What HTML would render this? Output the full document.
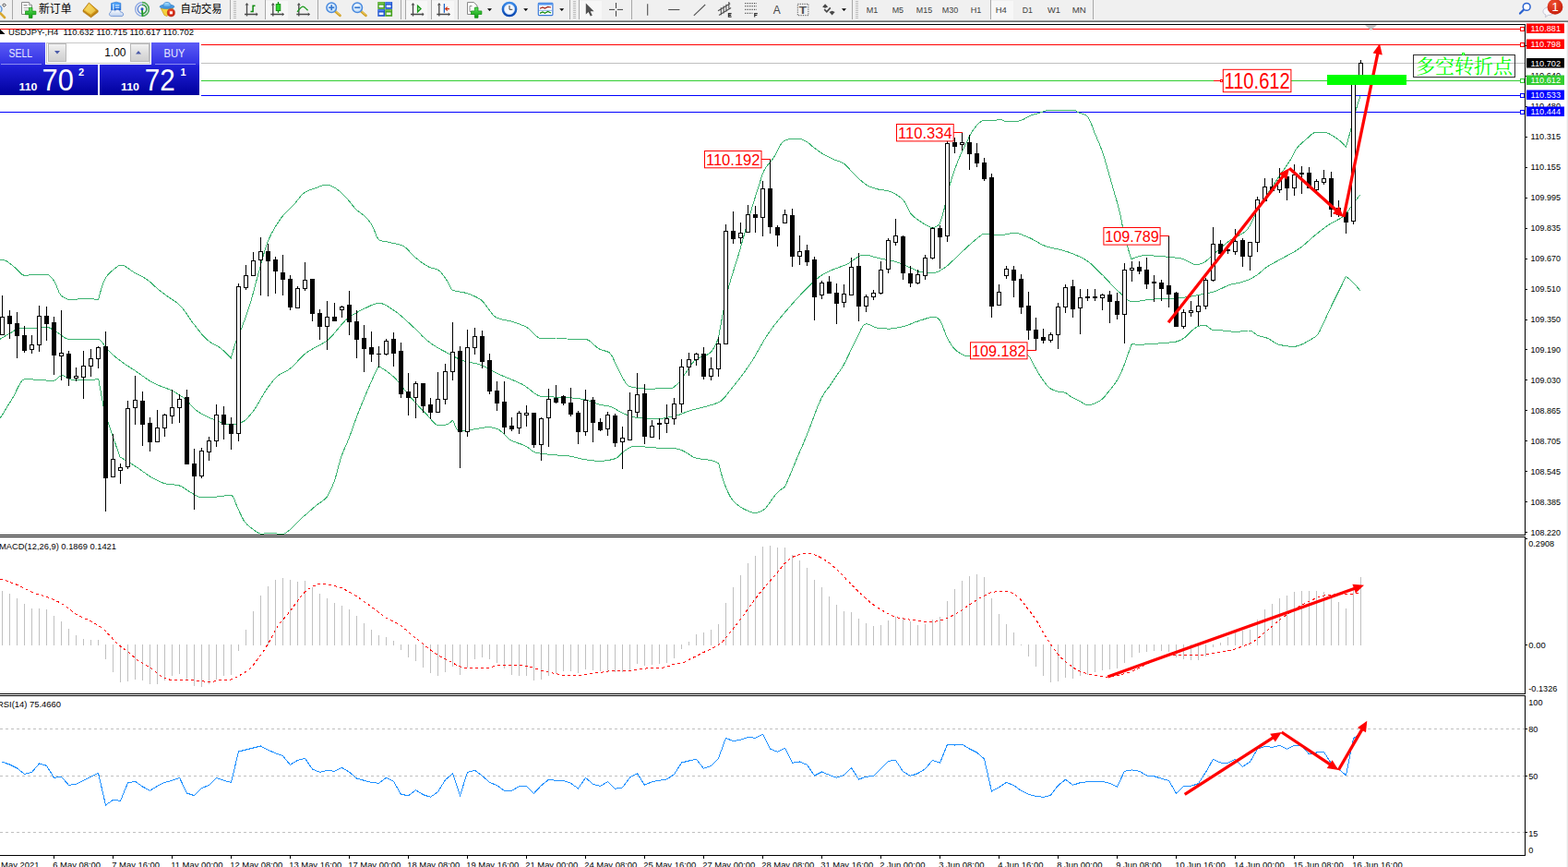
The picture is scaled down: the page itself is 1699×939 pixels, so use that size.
<!DOCTYPE html>
<html><head><meta charset="utf-8"><title>USDJPY H4</title>
<style>html,body{margin:0;padding:0;background:#fff;overflow:hidden}body{width:1699px;height:939px;position:relative;font-family:"Liberation Sans",sans-serif}</style></head>
<body>
<svg width="1699" height="939" viewBox="0 0 1699 939" style="position:absolute;left:0;top:0;font-family:'Liberation Sans',sans-serif" shape-rendering="crispEdges">
<defs>
<clipPath id="cm"><rect x="0" y="27" width="1652" height="552"/></clipPath>
<clipPath id="cmacd"><rect x="0" y="582" width="1652" height="169"/></clipPath>
<clipPath id="crsi"><rect x="0" y="754" width="1652" height="172"/></clipPath>
<linearGradient id="gb" x1="0" y1="0" x2="0" y2="1"><stop offset="0" stop-color="#5a5af5"/><stop offset="0.42" stop-color="#2c2ce0"/><stop offset="1" stop-color="#0000a0"/></linearGradient>
<linearGradient id="gbtn" x1="0" y1="0" x2="0" y2="1"><stop offset="0" stop-color="#f4f4f4"/><stop offset="0.5" stop-color="#dedede"/><stop offset="1" stop-color="#cfcfcf"/></linearGradient>
</defs>
<rect x="0" y="0" width="1699" height="939" fill="#fff" />
<rect x="0" y="31" width="1652" height="1" fill="#ff0000" />
<rect x="0" y="48" width="1652" height="1" fill="#ff0000" />
<rect x="0" y="68" width="1652" height="1" fill="#c0c0c0" />
<rect x="0" y="87" width="1652" height="1" fill="#32cd32" />
<rect x="0" y="103" width="1652" height="1" fill="#0000ff" />
<rect x="0" y="121" width="1652" height="1" fill="#0000ff" />
<g clip-path="url(#cm)">
<polyline points="0.0,281.4 2.0,281.5 4.0,281.8 6.0,282.3 8.0,283.3 10.0,284.8 12.0,286.4 14.0,288.1 16.0,289.6 18.0,291.5 20.0,293.6 22.0,295.7 24.0,297.3 26.0,298.2 28.0,298.3 30.0,298.1 32.0,297.9 34.0,297.6 36.0,297.4 38.0,297.2 40.0,297.2 42.0,297.2 44.0,297.2 46.0,297.2 48.0,297.2 50.0,297.2 52.0,297.5 54.0,298.9 56.0,301.0 58.0,303.3 60.0,306.7 62.0,311.8 64.0,316.7 66.0,319.8 68.0,321.4 70.0,322.7 72.0,323.7 74.0,324.3 76.0,324.4 78.0,324.3 80.0,324.2 82.0,324.1 84.0,324.0 86.0,323.8 88.0,323.7 90.0,323.7 92.0,323.6 94.0,323.6 96.0,323.7 98.0,323.8 100.0,323.9 102.0,324.0 104.0,324.2 106.0,324.3 106.6,324.4 106.6,324.4 108.6,316.9 110.6,310.2 112.6,304.7 114.6,300.9 116.6,298.1 118.6,295.8 120.6,293.9 122.6,292.3 124.6,290.6 126.6,289.1 128.6,287.8 130.6,287.2 132.6,287.3 134.6,287.9 136.6,289.0 138.6,290.3 140.6,291.7 142.6,293.2 144.6,294.6 146.6,295.7 148.6,296.8 150.6,297.8 152.6,298.9 154.6,299.9 156.6,301.1 158.6,302.3 160.6,303.7 162.6,305.3 164.6,307.1 166.6,309.0 168.6,310.9 170.6,312.7 172.6,314.3 174.6,315.8 176.6,317.3 178.6,318.8 180.6,320.3 182.6,321.7 184.6,323.0 186.6,324.3 188.6,325.7 190.6,327.1 192.6,328.6 194.6,330.3 196.6,332.4 198.6,334.9 200.6,337.6 202.6,340.5 204.6,343.5 206.6,346.4 208.6,349.2 210.6,351.8 212.6,354.3 214.6,356.9 216.6,359.4 218.6,361.9 220.6,364.2 222.6,366.3 224.6,368.1 226.6,369.7 228.6,371.0 230.6,372.2 232.6,373.3 234.6,374.3 236.6,375.5 238.6,376.8 240.6,378.4 242.6,380.1 244.6,382.0 246.6,384.0 248.6,386.1 250.3,388.0 250.3,388.0 252.3,380.8 254.3,374.3 256.3,368.6 258.3,363.8 260.3,359.1 262.3,353.9 264.3,348.6 266.3,343.2 268.3,337.5 270.3,331.4 272.3,324.6 274.3,317.4 276.3,309.9 278.3,302.4 280.3,295.3 282.3,288.0 284.3,280.6 286.3,273.5 288.3,267.0 290.3,261.5 292.3,256.9 294.3,252.8 296.3,249.1 298.3,245.7 300.3,242.5 302.3,239.4 304.3,236.6 306.3,234.0 308.3,231.7 310.3,229.6 312.3,227.7 314.3,225.8 316.3,223.9 318.3,221.8 320.3,219.5 322.3,216.9 324.3,214.3 326.3,211.9 328.3,209.8 330.3,208.3 332.3,207.3 334.3,206.4 336.3,205.6 338.3,204.9 340.3,204.2 342.3,203.6 344.3,202.8 346.3,202.0 348.3,201.3 350.3,200.6 352.3,200.2 354.3,200.0 356.3,200.3 358.3,201.1 360.3,202.1 362.3,203.1 364.3,204.3 366.3,205.8 368.3,207.5 370.3,209.3 372.3,211.2 374.3,213.2 376.3,215.3 378.3,217.7 380.3,220.3 382.3,222.8 384.3,225.1 386.3,227.2 388.3,228.9 390.3,230.4 392.3,231.8 394.3,233.3 396.3,235.2 398.3,237.3 400.3,239.8 402.3,242.7 404.3,246.2 406.3,251.3 408.3,256.4 410.3,259.8 412.3,260.6 414.3,261.1 416.3,261.5 418.3,261.8 420.3,262.1 422.3,262.5 424.3,263.0 426.3,263.4 428.3,263.8 430.3,264.3 432.3,264.8 434.3,265.4 436.3,266.1 438.3,267.3 440.3,268.9 442.3,270.9 444.3,273.1 446.3,275.3 448.3,277.4 450.3,279.2 452.3,280.7 454.3,282.3 456.3,283.8 458.3,285.2 460.3,286.6 462.3,287.8 464.3,288.9 466.3,289.7 468.3,290.4 470.3,290.9 472.3,291.4 474.3,292.1 476.3,293.5 478.3,295.6 480.3,298.1 482.3,300.8 484.3,303.8 486.3,307.9 488.3,311.9 490.3,314.2 492.3,314.9 494.3,315.4 496.3,315.7 498.3,316.0 500.3,316.3 502.3,316.7 504.3,317.2 506.3,317.8 508.3,318.4 510.3,319.2 512.3,320.0 514.3,320.9 516.3,321.9 518.3,323.0 520.3,324.1 522.3,325.7 524.3,327.9 526.3,330.4 528.3,333.2 530.3,336.0 532.3,338.7 534.3,341.1 536.3,342.9 538.3,344.2 540.3,344.9 542.3,345.5 544.3,346.0 546.3,346.4 548.3,346.8 550.3,347.2 552.3,347.6 554.3,348.2 556.3,348.8 558.3,349.4 560.3,350.1 562.3,350.8 564.3,351.6 566.3,352.4 568.3,353.3 570.3,354.3 572.3,355.6 574.3,357.3 576.3,359.3 578.3,361.3 580.3,363.3 582.3,364.9 584.3,366.1 586.3,366.7 588.3,366.6 590.3,366.5 592.3,366.4 594.3,366.3 596.3,366.1 598.3,366.0 600.3,366.0 602.3,366.0 604.3,366.1 606.3,366.3 608.3,366.4 610.3,366.6 612.3,366.8 614.3,367.0 616.3,367.1 618.3,367.3 620.3,367.3 622.3,367.4 624.3,367.4 626.3,367.5 628.3,367.5 630.3,367.5 632.3,367.6 634.3,367.6 636.3,367.9 638.3,368.8 640.3,370.3 642.3,372.1 644.3,374.0 646.3,375.8 648.3,377.4 650.3,378.5 652.3,379.2 654.3,379.7 656.3,380.2 658.3,380.9 660.3,381.9 662.3,384.2 664.3,387.9 666.3,392.3 668.3,396.8 670.3,400.5 672.3,404.3 674.3,408.3 676.3,412.1 678.3,415.3 680.3,417.6 682.3,418.5 684.3,419.0 686.3,419.5 688.3,419.9 690.3,420.2 692.3,420.5 694.3,420.7 696.3,420.9 698.3,421.0 700.3,421.0 702.3,421.0 704.3,421.0 706.3,421.0 708.3,421.0 710.3,421.0 712.3,420.9 714.3,420.9 716.3,420.9 718.3,420.9 720.3,420.8 722.3,420.8 724.3,420.7 726.3,420.7 728.3,420.3 730.3,419.1 732.3,417.5 734.3,415.8 736.3,413.5 738.3,410.7 740.3,407.7 742.3,404.8 744.3,402.0 746.3,399.0 748.3,396.0 750.3,393.2 752.3,390.9 754.3,389.3 756.3,388.1 758.3,387.2 760.3,386.5 762.3,385.8 764.3,385.0 766.3,384.1 768.3,382.9 770.3,381.4 772.3,378.9 774.3,375.4 776.3,371.2 778.3,366.7 778.3,366.7 778.3,366.7 780.3,355.6 782.3,345.1 784.3,335.0 786.3,325.2 788.3,316.1 790.3,308.2 792.3,301.2 794.3,294.8 796.3,288.5 798.3,282.2 800.3,275.5 802.3,268.6 804.3,261.5 806.3,254.4 808.3,247.3 810.3,240.3 812.3,233.4 814.3,226.7 816.3,220.1 818.3,213.6 820.3,207.3 822.3,201.0 824.3,194.6 826.3,188.3 828.3,183.9 830.3,180.7 832.3,178.2 834.3,175.9 836.3,173.5 838.3,170.9 840.3,167.4 842.3,163.4 844.3,159.5 846.3,156.0 848.3,153.6 850.3,152.4 852.3,151.4 854.3,150.8 856.3,150.6 858.3,150.6 860.3,150.6 862.3,150.6 864.3,150.6 866.3,150.6 868.3,150.9 870.3,151.6 872.3,152.6 874.3,153.7 876.3,155.1 878.3,156.8 880.3,158.6 882.3,160.2 884.3,161.7 886.3,163.2 888.3,164.6 890.3,165.9 892.3,167.1 894.3,168.2 896.3,169.2 898.3,170.2 900.3,171.2 902.3,172.1 904.3,173.0 906.3,173.8 908.3,174.5 910.3,175.2 912.3,176.1 914.3,177.2 916.3,178.7 918.3,180.7 920.3,183.0 922.3,185.2 924.3,187.2 926.3,189.3 928.3,191.4 930.3,193.4 932.3,195.1 934.3,196.8 936.3,198.5 938.3,199.9 940.3,201.1 942.3,202.0 944.3,202.8 946.3,203.6 948.3,204.2 950.3,204.7 952.3,205.2 954.3,205.6 956.3,205.8 958.3,206.0 960.3,206.3 962.3,206.7 964.3,207.3 966.3,208.1 968.3,209.1 970.3,210.2 972.3,211.4 974.3,212.8 976.3,214.4 978.3,216.3 980.3,218.8 982.3,222.7 984.3,227.0 986.3,230.6 988.3,232.8 990.3,234.8 992.3,236.4 994.3,237.9 996.3,239.2 998.3,240.5 1000.3,241.8 1002.3,243.1 1004.3,244.2 1006.3,245.3 1008.3,246.0 1010.3,246.4 1012.3,246.4 1014.3,245.6 1016.3,244.2 1018.3,242.5 1018.4,242.4 1018.4,242.4 1020.4,236.0 1022.4,229.0 1024.4,220.8 1026.4,211.7 1028.4,203.1 1030.4,196.2 1032.4,189.8 1034.4,183.9 1036.4,178.5 1038.4,173.3 1040.4,168.5 1042.4,164.1 1044.4,160.0 1046.4,156.1 1048.4,151.9 1050.4,147.8 1052.4,144.3 1054.4,141.0 1056.4,138.1 1058.4,135.7 1060.4,133.8 1062.4,132.0 1064.4,130.7 1066.4,130.4 1068.4,130.4 1070.4,130.4 1072.4,130.4 1074.4,130.4 1076.4,130.4 1078.4,130.3 1080.4,129.8 1082.4,129.3 1084.4,129.3 1086.4,130.3 1088.4,131.4 1090.4,131.5 1092.4,131.5 1094.4,131.5 1096.4,131.5 1098.4,131.5 1100.4,131.5 1102.4,131.4 1104.4,130.9 1106.4,130.3 1108.4,129.5 1110.4,128.5 1112.4,127.4 1114.4,126.3 1116.4,125.2 1118.4,124.5 1120.4,123.9 1122.4,123.4 1124.4,122.9 1126.4,122.3 1128.4,121.7 1130.4,120.9 1132.4,120.1 1134.4,119.5 1136.4,119.2 1138.4,119.2 1140.4,119.2 1142.4,119.2 1144.4,119.2 1146.4,119.2 1148.4,119.2 1150.4,119.2 1152.4,119.2 1154.4,119.2 1156.4,119.2 1158.4,119.2 1160.4,119.2 1162.4,119.2 1164.4,119.3 1166.4,120.4 1168.4,121.8 1170.4,122.7 1172.4,123.2 1174.4,123.7 1176.4,124.4 1178.4,126.3 1180.4,129.4 1182.4,133.9 1184.4,139.4 1186.4,144.6 1188.4,149.3 1190.4,153.9 1192.4,158.8 1194.4,164.1 1196.4,170.3 1198.4,177.1 1200.4,184.1 1202.4,191.0 1204.4,198.1 1206.4,205.2 1208.4,212.2 1210.4,218.8 1212.4,226.0 1214.4,235.2 1216.4,245.5 1218.4,254.0 1220.4,262.1 1222.4,269.5 1224.4,276.1 1226.0,280.7 1226.0,280.7 1228.0,279.8 1230.0,279.0 1232.0,278.3 1234.0,277.6 1236.0,277.1 1238.0,276.8 1240.0,276.7 1242.0,276.7 1244.0,276.7 1246.0,276.8 1248.0,276.9 1250.0,277.0 1252.0,277.1 1254.0,277.3 1256.0,277.4 1258.0,277.6 1260.0,277.7 1262.0,277.9 1264.0,278.1 1266.0,278.3 1268.0,278.5 1270.0,278.6 1272.0,278.8 1274.0,279.1 1276.0,279.3 1278.0,279.7 1280.0,280.0 1282.0,280.6 1284.0,281.4 1286.0,282.4 1288.0,283.5 1290.0,284.6 1292.0,285.6 1294.0,286.3 1296.0,286.6 1298.0,286.6 1300.0,286.1 1302.0,285.5 1304.0,284.7 1306.0,283.4 1308.0,281.7 1310.0,279.8 1312.0,277.8 1314.0,276.1 1316.0,274.4 1318.0,272.7 1320.0,270.9 1322.0,269.1 1324.0,267.4 1326.0,265.7 1328.0,264.0 1330.0,262.5 1332.0,260.9 1334.0,259.5 1336.0,258.3 1338.0,257.3 1340.0,256.3 1342.0,255.3 1344.0,254.2 1346.0,253.0 1348.0,251.6 1350.0,250.0 1352.0,247.8 1354.0,244.7 1356.0,241.2 1358.0,237.2 1360.0,233.0 1362.0,228.8 1364.0,224.8 1366.0,221.1 1368.0,217.9 1370.0,214.9 1372.0,212.0 1374.0,209.0 1376.0,206.0 1378.0,203.0 1380.0,200.0 1382.0,197.0 1384.0,194.0 1386.0,191.0 1388.0,188.0 1390.0,185.2 1392.0,182.4 1394.0,179.5 1396.0,176.6 1398.0,173.4 1400.0,170.0 1402.0,165.7 1404.0,162.0 1406.0,159.4 1408.0,157.3 1410.0,155.4 1412.0,153.7 1414.0,152.0 1416.0,150.3 1418.0,148.4 1420.0,146.5 1422.0,144.9 1424.0,143.7 1426.0,143.0 1428.0,143.0 1430.0,143.0 1432.0,143.0 1434.0,143.0 1436.0,143.3 1438.0,143.9 1440.0,144.8 1442.0,145.9 1444.0,147.1 1446.0,148.3 1448.0,149.5 1450.0,151.0 1452.0,152.7 1454.0,154.6 1456.0,156.6 1458.0,158.8 1458.4,159.2 1458.4,159.2 1460.4,152.3 1462.4,145.1 1464.4,137.7 1466.4,129.8 1468.4,122.2 1470.4,115.2 1472.4,108.8 1473.9,104.1" fill="none" stroke="#3cb371" stroke-width="1" />
<polyline points="0.0,367.3 2.0,366.1 4.0,364.9 6.0,363.7 8.0,362.6 10.0,361.5 12.0,360.3 14.0,358.9 16.0,357.6 18.0,356.5 20.0,355.6 22.0,355.1 24.0,355.1 26.0,355.1 28.0,355.2 30.0,355.3 32.0,355.4 34.0,355.5 36.0,355.5 38.0,355.4 40.0,355.2 42.0,355.0 44.0,354.8 46.0,354.6 48.0,354.4 50.0,354.3 52.0,354.5 54.0,355.2 56.0,356.3 58.0,357.6 60.0,358.9 62.0,360.0 64.0,361.4 66.0,362.9 68.0,364.5 70.0,365.8 72.0,366.8 74.0,367.3 76.0,367.3 78.0,367.3 80.0,367.3 82.0,367.3 84.0,367.3 86.0,367.3 88.0,367.3 90.0,367.3 92.0,367.3 94.0,367.3 96.0,367.3 98.0,367.3 100.0,367.3 102.0,367.3 104.0,367.3 106.0,367.3 108.0,367.8 110.0,369.7 112.0,372.5 114.0,375.5 116.0,378.2 118.0,380.2 120.0,382.1 122.0,383.9 124.0,385.6 126.0,387.3 128.0,388.9 130.0,390.4 132.0,391.9 134.0,393.4 136.0,394.8 138.0,396.1 140.0,397.4 142.0,398.6 144.0,399.9 146.0,401.2 148.0,402.6 150.0,404.0 152.0,405.4 154.0,406.8 156.0,408.2 158.0,409.6 160.0,411.0 162.0,412.3 164.0,413.5 166.0,414.7 168.0,415.7 170.0,416.6 172.0,417.4 174.0,418.2 176.0,418.9 178.0,419.7 180.0,420.4 182.0,421.2 184.0,422.1 186.0,423.0 188.0,424.0 190.0,425.1 192.0,426.3 194.0,427.5 196.0,428.8 198.0,430.2 200.0,431.7 202.0,433.4 204.0,435.5 206.0,437.7 208.0,440.0 210.0,442.1 212.0,444.0 214.0,445.4 216.0,446.7 218.0,447.9 220.0,449.1 222.0,450.1 224.0,451.1 226.0,452.0 228.0,452.9 230.0,453.7 232.0,454.5 234.0,455.3 236.0,456.0 238.0,456.9 240.0,457.7 242.0,458.4 244.0,459.0 246.0,459.5 248.0,459.9 250.0,460.0 252.0,459.9 254.0,459.6 256.0,459.2 258.0,458.6 260.0,458.0 262.0,457.2 264.0,456.4 266.0,455.0 268.0,453.0 270.0,450.7 272.0,448.3 274.0,445.8 276.0,443.0 278.0,439.9 280.0,436.5 282.0,433.0 284.0,429.5 286.0,426.0 288.0,422.8 290.0,420.0 292.0,417.4 294.0,414.8 296.0,412.3 298.0,410.1 300.0,408.1 302.0,406.4 304.0,405.1 306.0,404.0 308.0,403.0 310.0,402.0 312.0,400.9 314.0,399.5 316.0,397.9 318.0,396.0 320.0,393.9 322.0,391.8 324.0,389.6 326.0,387.5 328.0,385.5 330.0,383.7 332.0,382.1 334.0,380.7 336.0,379.4 338.0,378.3 340.0,377.2 342.0,376.1 344.0,375.1 346.0,374.0 348.0,372.9 350.0,371.7 352.0,370.5 354.0,369.1 356.0,367.5 358.0,365.7 360.0,363.6 362.0,361.3 364.0,358.9 366.0,356.4 368.0,354.0 370.0,351.6 372.0,349.4 374.0,347.3 376.0,345.5 378.0,344.0 380.0,342.6 382.0,341.2 384.0,340.0 386.0,338.8 388.0,337.7 390.0,336.6 392.0,335.6 394.0,334.7 396.0,333.7 398.0,332.7 400.0,331.7 402.0,330.7 404.0,329.9 406.0,329.2 408.0,328.6 410.0,328.4 412.0,328.4 414.0,328.8 416.0,329.5 418.0,330.5 420.0,331.7 422.0,332.9 424.0,334.3 426.0,335.6 428.0,336.9 430.0,338.3 432.0,339.9 434.0,341.6 436.0,343.3 438.0,345.2 440.0,347.0 442.0,348.8 444.0,350.6 446.0,352.4 448.0,354.3 450.0,356.3 452.0,358.3 454.0,360.3 456.0,362.3 458.0,364.3 460.0,366.1 462.0,367.9 464.0,369.6 466.0,371.2 468.0,372.6 470.0,373.9 472.0,375.2 474.0,376.4 476.0,377.6 478.0,378.7 480.0,379.8 482.0,380.8 484.0,381.9 486.0,383.0 488.0,384.1 490.0,385.2 492.0,386.3 494.0,387.3 496.0,388.3 498.0,389.2 500.0,390.0 502.0,390.6 504.0,391.2 506.0,391.7 508.0,392.1 510.0,392.5 512.0,392.9 514.0,393.4 516.0,393.8 518.0,394.4 520.0,395.0 522.0,395.7 524.0,396.6 526.0,397.6 528.0,398.6 530.0,399.7 532.0,400.8 534.0,401.9 536.0,403.0 538.0,404.0 540.0,405.0 542.0,405.9 544.0,406.8 546.0,407.6 548.0,408.5 550.0,409.3 552.0,410.1 554.0,410.9 556.0,411.8 558.0,412.6 560.0,413.5 562.0,414.4 564.0,415.3 566.0,416.3 568.0,417.4 570.0,418.8 572.0,420.3 574.0,421.9 576.0,423.5 578.0,425.1 580.0,426.6 582.0,427.8 584.0,428.7 586.0,429.2 588.0,429.4 590.0,429.6 592.0,429.7 594.0,429.8 596.0,429.8 598.0,429.9 600.0,430.0 602.0,430.1 604.0,430.2 606.0,430.3 608.0,430.4 610.0,430.4 612.0,430.5 614.0,430.6 616.0,430.7 618.0,430.9 620.0,431.0 622.0,431.2 624.0,431.4 626.0,431.6 628.0,431.8 630.0,432.1 632.0,432.4 634.0,432.8 636.0,433.3 638.0,434.0 640.0,434.7 642.0,435.6 644.0,436.4 646.0,437.1 648.0,437.8 650.0,438.3 652.0,438.7 654.0,439.0 656.0,439.3 658.0,439.6 660.0,440.0 662.0,440.6 664.0,441.5 666.0,442.5 668.0,443.7 670.0,444.9 672.0,446.1 674.0,447.1 676.0,448.1 678.0,448.8 680.0,449.6 682.0,450.4 684.0,451.0 686.0,451.6 688.0,452.1 690.0,452.3 692.0,452.5 694.0,452.6 696.0,452.8 698.0,452.9 700.0,453.0 702.0,453.1 704.0,453.2 706.0,453.2 708.0,453.3 710.0,453.3 712.0,453.3 714.0,453.3 716.0,453.2 718.0,453.1 720.0,452.8 722.0,452.5 724.0,452.1 726.0,451.7 728.0,451.3 730.0,450.8 732.0,450.3 734.0,449.8 736.0,449.2 738.0,448.5 740.0,447.6 742.0,446.8 744.0,445.9 746.0,445.2 748.0,444.6 750.0,444.0 752.0,443.5 754.0,443.0 756.0,442.6 758.0,442.1 760.0,441.6 762.0,441.0 764.0,440.5 766.0,439.9 768.0,439.4 770.0,438.8 772.0,438.2 774.0,437.6 776.0,436.8 778.0,436.0 780.0,435.0 782.0,433.6 784.0,431.7 786.0,429.5 788.0,426.9 790.0,424.3 792.0,421.7 794.0,419.2 796.0,416.7 798.0,414.2 800.0,411.7 802.0,409.1 804.0,406.4 806.0,403.8 808.0,401.0 810.0,398.2 812.0,395.3 814.0,392.3 816.0,389.2 818.0,385.9 820.0,382.4 822.0,378.9 824.0,375.4 826.0,371.8 828.0,368.4 830.0,365.1 832.0,362.0 834.0,359.1 836.0,356.3 838.0,353.6 840.0,351.0 842.0,348.5 844.0,346.0 846.0,343.6 848.0,341.2 850.0,338.9 852.0,336.5 854.0,334.2 856.0,331.9 858.0,329.6 860.0,327.4 862.0,325.2 864.0,323.0 866.0,320.8 868.0,318.7 870.0,316.7 872.0,314.7 874.0,312.7 876.0,310.7 878.0,308.7 880.0,306.7 882.0,304.8 884.0,303.0 886.0,301.3 888.0,299.7 890.0,298.3 892.0,297.1 894.0,296.0 896.0,295.0 898.0,294.0 900.0,293.1 902.0,292.2 904.0,291.4 906.0,290.6 908.0,289.9 910.0,289.2 912.0,288.5 914.0,287.7 916.0,287.0 918.0,286.0 920.0,284.9 922.0,283.5 924.0,282.1 926.0,280.7 928.0,279.3 930.0,278.1 932.0,277.1 934.0,276.4 936.0,276.0 938.0,276.1 940.0,276.3 942.0,276.7 944.0,277.2 946.0,277.9 948.0,278.5 950.0,279.1 952.0,279.7 954.0,280.1 956.0,280.5 958.0,280.9 960.0,281.3 962.0,281.6 964.0,282.0 966.0,282.4 968.0,282.8 970.0,283.3 972.0,283.9 974.0,284.6 976.0,285.4 978.0,286.3 980.0,287.2 982.0,288.0 984.0,288.9 986.0,289.7 988.0,290.6 990.0,291.5 992.0,292.5 994.0,293.4 996.0,294.2 998.0,294.8 1000.0,295.0 1002.0,295.0 1004.0,295.0 1006.0,295.0 1008.0,295.0 1010.0,295.0 1012.0,295.0 1014.0,295.0 1016.0,294.5 1018.0,293.5 1020.0,292.2 1022.0,290.9 1024.0,289.6 1026.0,288.1 1028.0,286.5 1030.0,284.7 1032.0,282.7 1034.0,280.8 1036.0,278.8 1038.0,276.9 1040.0,275.0 1042.0,273.2 1044.0,271.3 1046.0,269.4 1048.0,267.5 1050.0,265.7 1052.0,263.9 1054.0,262.1 1056.0,260.5 1058.0,258.9 1060.0,257.2 1062.0,255.5 1064.0,254.1 1066.0,253.4 1068.0,253.4 1070.0,253.5 1072.0,253.8 1074.0,254.1 1076.0,254.5 1078.0,254.7 1080.0,254.9 1082.0,255.0 1084.0,254.9 1086.0,254.6 1088.0,254.3 1090.0,253.8 1092.0,253.4 1094.0,253.0 1096.0,252.7 1098.0,252.4 1100.0,252.3 1102.0,252.5 1104.0,252.9 1106.0,253.6 1108.0,254.4 1110.0,255.3 1112.0,256.1 1114.0,256.9 1116.0,257.8 1118.0,258.8 1120.0,259.9 1122.0,261.0 1124.0,262.2 1126.0,263.3 1128.0,264.4 1130.0,265.3 1132.0,266.2 1134.0,266.9 1136.0,267.5 1138.0,268.0 1140.0,268.5 1142.0,268.9 1144.0,269.4 1146.0,269.8 1148.0,270.2 1150.0,270.7 1152.0,271.3 1154.0,271.9 1156.0,272.5 1158.0,273.2 1160.0,273.9 1162.0,274.7 1164.0,275.4 1166.0,276.3 1168.0,277.2 1170.0,278.1 1172.0,279.1 1174.0,280.2 1176.0,281.3 1178.0,282.5 1180.0,284.0 1182.0,285.6 1184.0,287.5 1186.0,289.4 1188.0,291.4 1190.0,293.4 1192.0,295.4 1194.0,297.3 1196.0,299.3 1198.0,301.4 1200.0,303.5 1202.0,305.7 1204.0,307.8 1206.0,310.0 1208.0,312.0 1210.0,314.0 1212.0,315.8 1214.0,317.5 1216.0,319.4 1218.0,321.4 1220.0,323.3 1222.0,324.8 1224.0,326.0 1226.0,326.6 1228.0,326.6 1230.0,326.5 1232.0,326.4 1234.0,326.1 1236.0,325.9 1238.0,325.6 1240.0,325.2 1242.0,324.9 1244.0,324.6 1246.0,324.4 1248.0,324.2 1250.0,324.0 1252.0,323.9 1254.0,323.8 1256.0,323.7 1258.0,323.7 1260.0,323.6 1262.0,323.5 1264.0,323.5 1266.0,323.4 1268.0,323.3 1270.0,323.1 1272.0,323.0 1274.0,322.9 1276.0,322.7 1278.0,322.5 1280.0,322.3 1282.0,322.2 1284.0,322.0 1286.0,321.7 1288.0,321.5 1290.0,321.2 1292.0,320.9 1294.0,320.5 1296.0,320.1 1298.0,319.6 1300.0,319.2 1302.0,318.8 1304.0,318.4 1306.0,318.1 1308.0,317.7 1310.0,317.3 1312.0,316.9 1314.0,316.4 1316.0,315.7 1318.0,315.0 1320.0,314.1 1322.0,313.2 1324.0,312.2 1326.0,311.3 1328.0,310.3 1330.0,309.5 1332.0,308.7 1334.0,308.1 1336.0,307.6 1338.0,307.2 1340.0,306.8 1342.0,306.4 1344.0,306.0 1346.0,305.5 1348.0,304.8 1350.0,304.1 1352.0,303.3 1354.0,302.4 1356.0,301.4 1358.0,300.3 1360.0,299.2 1362.0,297.9 1364.0,296.4 1366.0,294.7 1368.0,292.9 1370.0,291.2 1372.0,289.7 1374.0,288.4 1376.0,287.1 1378.0,286.0 1380.0,284.8 1382.0,283.8 1384.0,282.7 1386.0,281.6 1388.0,280.5 1390.0,279.4 1392.0,278.3 1394.0,277.2 1396.0,276.2 1398.0,275.1 1400.0,274.0 1402.0,272.9 1404.0,271.7 1406.0,270.4 1408.0,269.1 1410.0,267.6 1412.0,266.0 1414.0,264.3 1416.0,262.6 1418.0,260.8 1420.0,259.0 1422.0,257.2 1424.0,255.5 1426.0,253.9 1428.0,252.3 1430.0,250.7 1432.0,249.2 1434.0,247.6 1436.0,246.1 1438.0,244.7 1440.0,243.3 1442.0,242.1 1444.0,241.0 1446.0,239.9 1448.0,238.9 1450.0,237.8 1452.0,236.7 1454.0,235.4 1456.0,233.9 1458.0,232.0 1460.0,229.6 1462.0,226.7 1464.0,223.8 1466.0,220.9 1468.0,218.3 1470.0,215.7 1472.0,213.2 1474.0,210.7" fill="none" stroke="#3cb371" stroke-width="1" />
<polyline points="0.0,453.3 2.0,450.0 4.0,446.8 6.0,443.5 8.0,440.3 10.0,437.0 12.0,433.8 14.0,430.6 16.0,426.8 18.0,422.6 20.0,418.5 22.0,414.9 24.0,412.2 26.0,410.8 28.0,410.7 30.0,410.7 32.0,410.8 34.0,410.9 36.0,411.0 38.0,411.2 40.0,411.3 42.0,411.5 44.0,411.6 46.0,411.8 48.0,411.9 50.0,412.0 52.0,412.2 54.0,412.2 56.0,412.3 58.0,412.3 60.0,411.7 62.0,410.0 64.0,408.0 66.0,406.8 68.0,406.8 70.0,407.4 72.0,408.4 74.0,409.5 76.0,410.6 78.0,411.4 80.0,411.7 82.0,411.7 84.0,411.7 86.0,411.7 88.0,411.6 90.0,411.6 92.0,411.6 94.0,411.5 96.0,411.5 98.0,411.4 100.0,411.2 102.0,411.1 104.0,410.9 106.0,410.7 106.7,410.7 106.7,410.7 113.3,446.7 113.3,446.7 130.0,495.0 130.0,495.0 132.0,496.1 134.0,497.3 136.0,498.5 138.0,499.7 140.0,500.9 142.0,502.1 144.0,503.3 146.0,504.6 148.0,505.9 150.0,507.2 152.0,508.6 154.0,510.0 156.0,511.5 158.0,512.9 160.0,514.3 162.0,515.6 164.0,516.9 166.0,518.0 168.0,519.0 170.0,520.1 172.0,521.1 174.0,522.0 176.0,522.8 178.0,523.5 180.0,524.0 182.0,524.3 184.0,524.6 186.0,524.8 188.0,524.9 190.0,525.1 192.0,525.4 194.0,525.8 196.0,526.6 198.0,527.7 200.0,529.0 202.0,530.3 204.0,531.7 206.0,533.0 208.0,534.1 210.0,535.4 212.0,536.7 214.0,537.7 216.0,538.3 218.0,538.3 220.0,538.3 222.0,538.3 224.0,538.3 226.0,538.3 228.0,538.3 230.0,538.3 232.0,538.2 234.0,538.1 236.0,537.9 238.0,537.7 240.0,537.5 242.0,537.2 244.0,536.9 246.0,536.6 248.0,536.4 250.0,536.3 252.0,537.2 254.0,541.1 256.0,546.4 258.0,551.3 260.0,555.4 262.0,559.7 264.0,563.4 266.0,566.2 268.0,568.3 270.0,570.1 272.0,571.6 274.0,573.1 276.0,574.5 278.0,576.1 280.0,577.4 282.0,578.0 284.0,578.0 286.0,578.0 288.0,577.9 290.0,577.8 292.0,577.7 294.0,577.7 296.0,577.7 298.0,577.8 300.0,578.0 302.0,578.1 304.0,578.2 306.0,578.3 308.0,578.0 310.0,576.9 312.0,575.4 314.0,573.9 316.0,572.2 318.0,570.3 320.0,568.2 322.0,566.0 324.0,563.9 326.0,561.9 328.0,560.1 330.0,558.4 332.0,556.8 334.0,555.1 336.0,553.3 338.0,551.5 340.0,549.7 342.0,547.9 344.0,546.3 346.0,544.9 348.0,543.6 350.0,542.2 352.0,540.5 354.0,538.4 356.0,535.2 358.0,531.3 360.0,526.9 362.0,521.8 364.0,515.6 366.0,507.8 368.0,500.6 370.0,494.2 372.0,488.7 374.0,484.4 376.0,479.9 378.0,474.9 380.0,469.5 382.0,463.9 384.0,458.3 386.0,452.8 388.0,447.5 390.0,442.5 392.0,437.6 394.0,432.7 396.0,427.9 398.0,423.2 400.0,418.5 402.0,414.0 404.0,409.5 406.0,405.1 408.0,400.8 410.0,396.7 410.0,396.7 412.0,397.6 414.0,398.8 416.0,400.0 418.0,401.4 420.0,402.8 422.0,404.4 424.0,406.0 426.0,407.7 428.0,409.6 430.0,411.7 432.0,414.0 434.0,416.5 436.0,419.1 438.0,421.7 440.0,424.3 442.0,426.8 444.0,429.1 446.0,431.4 448.0,433.6 450.0,435.9 452.0,438.1 454.0,440.3 456.0,442.4 458.0,444.6 460.0,446.6 462.0,448.7 464.0,450.7 466.0,453.0 468.0,455.4 470.0,457.7 472.0,459.5 474.0,460.5 476.0,460.7 478.0,460.6 480.0,460.4 482.0,460.2 484.0,459.9 486.0,458.9 488.0,457.5 490.0,455.6 490.7,455.0 490.7,455.0 492.7,460.2 494.7,464.7 496.7,466.7 498.7,466.6 500.7,466.5 502.7,466.3 504.7,466.1 506.7,465.9 508.7,465.6 510.7,465.3 512.7,465.1 514.7,464.8 516.7,464.5 518.7,464.1 520.7,463.8 522.7,463.4 524.7,463.1 526.7,462.8 528.7,462.7 530.7,462.7 532.7,462.9 534.7,463.3 536.7,463.8 538.7,464.4 540.7,465.5 542.7,467.0 544.7,468.9 546.7,470.9 548.7,472.9 550.7,474.8 552.7,476.3 554.7,477.3 556.7,478.2 558.7,479.0 560.7,479.7 562.7,480.4 564.7,481.1 566.7,481.8 568.7,482.7 570.7,483.7 572.7,485.1 574.7,486.7 576.7,488.3 578.7,489.5 580.7,490.2 582.7,490.6 584.7,490.9 586.7,491.3 588.7,491.5 590.7,491.8 592.7,492.0 594.7,492.2 596.7,492.4 598.7,492.5 600.7,492.7 602.7,492.9 604.7,493.1 606.7,493.2 608.7,493.3 610.7,493.5 612.7,493.6 614.7,493.8 616.7,494.0 618.7,494.3 620.7,494.7 622.7,495.2 624.7,495.7 626.7,496.2 628.7,496.7 630.7,497.2 632.7,497.6 634.7,497.9 636.7,498.1 638.7,498.4 640.7,498.7 642.7,498.9 644.7,499.1 646.7,499.2 648.7,499.3 650.7,499.3 652.7,499.3 654.7,499.1 656.7,498.8 658.7,498.5 660.7,498.2 662.7,497.7 664.7,497.2 666.7,496.7 668.7,495.6 670.7,493.9 672.7,491.9 674.7,489.9 676.7,488.3 678.7,487.0 680.7,485.7 682.7,484.5 684.7,483.7 686.7,483.3 688.7,483.4 690.7,483.4 692.7,483.5 694.7,483.7 696.7,483.9 698.7,484.0 700.7,484.2 702.7,484.4 704.7,484.6 706.7,484.8 708.7,484.9 710.7,485.0 712.7,485.1 714.7,485.2 716.7,485.3 718.7,485.3 720.7,485.4 722.7,485.4 724.7,485.5 726.7,485.6 728.7,485.7 730.7,485.8 732.7,485.9 734.7,486.2 736.7,486.9 738.7,487.7 740.7,488.5 742.7,489.6 744.7,490.9 746.7,492.2 748.7,493.5 750.7,494.7 752.7,495.7 754.7,496.3 756.7,496.7 758.7,497.0 760.7,497.2 762.7,497.4 764.7,497.6 766.7,497.9 768.7,498.2 770.7,498.6 772.7,499.2 774.7,500.0 776.7,500.9 778.7,501.9 778.8,502.0 778.8,502.0 780.8,510.1 782.8,517.3 784.8,523.5 786.8,528.5 788.8,533.1 790.8,537.1 792.8,540.3 794.8,542.7 796.8,544.8 798.8,546.5 800.8,548.1 802.8,549.4 804.8,550.6 806.8,551.7 808.8,552.6 810.8,553.4 812.8,554.2 814.8,554.9 816.8,555.5 818.8,555.6 820.8,555.2 822.8,554.5 824.8,553.6 826.8,552.5 828.8,551.1 830.8,548.9 832.8,546.2 834.8,543.2 836.8,540.3 838.8,537.7 840.8,535.4 842.8,533.1 844.8,531.1 846.8,529.9 848.8,528.7 850.8,526.6 852.8,522.1 854.8,517.3 856.8,512.6 858.8,507.8 860.8,503.0 862.8,498.1 864.8,493.4 866.8,488.8 868.8,484.2 870.8,479.6 872.8,474.7 874.8,469.9 876.8,464.8 878.8,459.5 880.8,454.1 882.8,448.7 884.8,443.4 886.8,438.4 888.8,433.9 890.8,429.8 892.8,426.4 894.8,423.5 896.8,420.9 898.8,418.3 900.8,415.4 902.8,412.4 904.8,409.4 906.8,406.4 908.8,403.5 910.8,400.6 912.8,397.5 914.8,394.0 916.8,390.1 918.8,386.0 920.8,381.7 922.8,377.5 924.8,373.4 926.8,369.7 928.8,365.6 930.8,361.2 932.8,357.0 934.8,353.5 936.8,351.2 938.8,350.7 940.8,351.1 942.8,352.0 944.8,353.0 946.8,354.0 948.8,354.8 950.8,355.1 952.8,355.3 954.8,355.5 956.8,355.7 958.8,355.9 960.8,356.0 962.8,356.0 964.8,356.0 966.8,355.8 968.8,355.6 970.8,355.3 972.8,354.9 974.8,354.5 976.8,354.1 978.8,353.6 980.8,353.1 982.8,352.5 984.8,351.7 986.8,350.9 988.8,350.0 990.8,349.2 992.8,348.5 994.8,347.9 996.8,347.2 998.8,346.5 1000.8,345.9 1002.8,345.2 1004.8,344.6 1006.8,344.1 1008.8,343.7 1010.8,343.5 1012.8,343.3 1014.8,343.7 1016.8,345.2 1018.8,347.3 1020.8,351.3 1022.8,356.9 1024.8,362.6 1026.8,367.0 1028.8,370.3 1030.8,373.5 1032.8,376.2 1034.8,378.5 1036.8,380.1 1038.8,381.5 1040.8,382.8 1042.8,383.9 1044.8,384.8 1046.8,385.5 1048.8,385.9 1050.8,386.0 1052.8,386.0 1054.8,386.0 1056.8,385.9 1058.8,385.9 1060.8,385.9 1062.8,385.8 1064.8,385.7 1066.8,385.7 1068.8,385.6 1070.8,385.5 1072.8,385.4 1074.8,385.4 1076.8,385.3 1078.8,385.2 1080.8,385.1 1082.8,385.0 1084.8,384.9 1086.8,384.8 1088.8,384.8 1090.8,384.7 1092.8,384.6 1094.8,384.5 1096.8,384.5 1098.8,384.4 1100.8,384.3 1102.8,384.3 1104.8,384.2 1106.8,384.2 1108.8,384.2 1110.8,384.2 1112.8,384.1 1114.8,385.4 1116.8,388.5 1118.8,392.6 1120.8,396.5 1122.8,399.9 1124.8,403.3 1126.8,406.7 1128.8,409.8 1130.8,412.6 1132.8,415.2 1134.8,417.7 1136.8,419.8 1138.8,421.2 1140.8,422.2 1142.8,423.0 1144.8,423.7 1146.8,424.1 1148.8,424.5 1150.8,424.7 1152.8,425.0 1154.8,425.6 1156.8,426.8 1158.8,428.4 1160.8,429.8 1162.8,431.0 1164.8,432.0 1166.8,432.9 1168.8,433.9 1170.8,434.9 1172.8,436.1 1174.8,437.4 1176.8,438.5 1178.8,438.9 1180.8,438.7 1182.8,438.2 1184.8,437.4 1186.8,436.6 1188.8,435.8 1190.8,434.7 1192.8,433.4 1194.8,431.8 1196.8,429.7 1198.8,427.2 1200.8,424.7 1202.8,422.2 1204.8,419.9 1206.8,417.3 1208.8,414.5 1210.8,411.3 1212.8,407.5 1214.8,403.3 1216.8,398.7 1218.8,393.3 1220.8,387.6 1222.8,382.1 1224.8,376.7 1226.5,372.1 1226.5,372.1 1228.5,372.7 1230.5,373.2 1232.5,373.3 1234.5,373.3 1236.5,373.2 1238.5,373.1 1240.5,373.0 1242.5,372.8 1244.5,372.7 1246.5,372.6 1248.5,372.5 1250.5,372.3 1252.5,372.2 1254.5,372.1 1256.5,371.9 1258.5,371.8 1260.5,371.6 1262.5,371.4 1264.5,371.2 1266.5,371.1 1268.5,370.9 1270.5,370.6 1272.5,370.3 1274.5,370.0 1276.5,369.4 1278.5,368.6 1280.5,367.6 1282.5,366.4 1284.5,364.9 1286.5,362.9 1288.5,360.8 1290.5,359.0 1292.5,357.3 1294.5,355.7 1296.5,354.3 1298.5,353.5 1300.5,352.8 1302.5,352.3 1304.5,352.1 1306.5,352.3 1308.5,353.7 1310.5,355.4 1312.5,356.8 1314.5,357.3 1316.5,357.5 1318.5,357.7 1320.5,357.8 1322.5,357.9 1324.5,358.0 1326.5,358.2 1328.5,358.4 1330.5,358.6 1332.5,358.9 1334.5,359.1 1336.5,359.3 1338.5,359.4 1340.5,359.4 1342.5,359.3 1344.5,359.0 1346.5,358.7 1348.5,358.4 1350.5,358.2 1352.5,358.0 1354.5,358.0 1356.5,358.7 1358.5,360.2 1360.5,361.8 1362.5,363.2 1364.5,363.9 1366.5,364.4 1368.5,364.9 1370.5,365.4 1372.5,366.0 1374.5,366.9 1376.5,368.0 1378.5,369.3 1380.5,370.6 1382.5,371.8 1384.5,372.7 1386.5,373.4 1388.5,373.8 1390.5,374.2 1392.5,374.5 1394.5,374.8 1396.5,375.1 1398.5,375.2 1400.5,375.3 1402.5,375.3 1404.5,375.0 1406.5,374.4 1408.5,373.7 1410.5,373.0 1412.5,372.1 1414.5,371.0 1416.5,369.9 1418.5,368.7 1420.5,367.6 1422.5,366.5 1424.5,365.2 1426.5,363.6 1428.5,361.2 1430.5,357.5 1432.5,353.1 1434.5,348.8 1436.5,344.6 1438.5,340.3 1440.5,335.9 1442.5,331.6 1444.5,327.5 1446.5,323.5 1448.5,319.6 1450.5,315.6 1452.5,311.5 1454.5,307.4 1456.5,303.2 1458.3,299.4 1458.3,299.4 1460.3,300.8 1462.3,302.3 1464.3,304.1 1466.3,306.1 1468.3,308.2 1470.3,310.5 1472.3,313.0 1473.6,314.7" fill="none" stroke="#3cb371" stroke-width="1" />
</g>
<g>
<rect x="2" y="320" width="1" height="43" fill="#000" />
<rect x="0" y="343" width="5" height="20" fill="#000" />
<rect x="1" y="344" width="3" height="18" fill="#fff" />
<rect x="10" y="336" width="1" height="31" fill="#000" />
<rect x="8" y="342" width="5" height="9" fill="#000" />
<rect x="18" y="338" width="1" height="50" fill="#000" />
<rect x="16" y="350" width="5" height="14" fill="#000" />
<rect x="26" y="353" width="1" height="29" fill="#000" />
<rect x="24" y="363" width="5" height="17" fill="#000" />
<rect x="34" y="363" width="1" height="20" fill="#000" />
<rect x="32" y="373" width="5" height="6" fill="#000" />
<rect x="33" y="374" width="3" height="4" fill="#fff" />
<rect x="42" y="331" width="1" height="50" fill="#000" />
<rect x="40" y="342" width="5" height="32" fill="#000" />
<rect x="41" y="343" width="3" height="30" fill="#fff" />
<rect x="50" y="332" width="1" height="37" fill="#000" />
<rect x="48" y="342" width="5" height="9" fill="#000" />
<rect x="58" y="343" width="1" height="63" fill="#000" />
<rect x="56" y="349" width="5" height="36" fill="#000" />
<rect x="66" y="336" width="1" height="76" fill="#000" />
<rect x="64" y="382" width="5" height="4" fill="#000" />
<rect x="65" y="383" width="3" height="2" fill="#fff" />
<rect x="74" y="380" width="1" height="38" fill="#000" />
<rect x="72" y="383" width="5" height="27" fill="#000" />
<rect x="82" y="398" width="1" height="15" fill="#000" />
<rect x="80" y="407" width="5" height="3" fill="#000" />
<rect x="81" y="408" width="3" height="1" fill="#fff" />
<rect x="90" y="380" width="1" height="52" fill="#000" />
<rect x="88" y="396" width="5" height="13" fill="#000" />
<rect x="89" y="397" width="3" height="11" fill="#fff" />
<rect x="98" y="378" width="1" height="30" fill="#000" />
<rect x="96" y="388" width="5" height="9" fill="#000" />
<rect x="97" y="389" width="3" height="7" fill="#fff" />
<rect x="106" y="375" width="1" height="24" fill="#000" />
<rect x="104" y="376" width="5" height="13" fill="#000" />
<rect x="105" y="377" width="3" height="11" fill="#fff" />
<rect x="114" y="359" width="1" height="195" fill="#000" />
<rect x="112" y="375" width="5" height="143" fill="#000" />
<rect x="122" y="470" width="1" height="46" fill="#000" />
<rect x="120" y="497" width="5" height="20" fill="#000" />
<rect x="121" y="498" width="3" height="18" fill="#fff" />
<rect x="130" y="502" width="1" height="22" fill="#000" />
<rect x="128" y="506" width="5" height="4" fill="#000" />
<rect x="129" y="507" width="3" height="2" fill="#fff" />
<rect x="138" y="434" width="1" height="74" fill="#000" />
<rect x="136" y="442" width="5" height="64" fill="#000" />
<rect x="137" y="443" width="3" height="62" fill="#fff" />
<rect x="146" y="407" width="1" height="53" fill="#000" />
<rect x="144" y="433" width="5" height="9" fill="#000" />
<rect x="145" y="434" width="3" height="7" fill="#fff" />
<rect x="154" y="424" width="1" height="59" fill="#000" />
<rect x="152" y="434" width="5" height="26" fill="#000" />
<rect x="162" y="452" width="1" height="37" fill="#000" />
<rect x="160" y="458" width="5" height="21" fill="#000" />
<rect x="170" y="444" width="1" height="35" fill="#000" />
<rect x="168" y="463" width="5" height="16" fill="#000" />
<rect x="169" y="464" width="3" height="14" fill="#fff" />
<rect x="178" y="448" width="1" height="25" fill="#000" />
<rect x="176" y="449" width="5" height="15" fill="#000" />
<rect x="177" y="450" width="3" height="13" fill="#fff" />
<rect x="186" y="422" width="1" height="37" fill="#000" />
<rect x="184" y="441" width="5" height="10" fill="#000" />
<rect x="185" y="442" width="3" height="8" fill="#fff" />
<rect x="194" y="427" width="1" height="31" fill="#000" />
<rect x="192" y="432" width="5" height="10" fill="#000" />
<rect x="193" y="433" width="3" height="8" fill="#fff" />
<rect x="202" y="422" width="1" height="81" fill="#000" />
<rect x="200" y="430" width="5" height="73" fill="#000" />
<rect x="210" y="486" width="1" height="66" fill="#000" />
<rect x="208" y="502" width="5" height="14" fill="#000" />
<rect x="218" y="485" width="1" height="33" fill="#000" />
<rect x="216" y="488" width="5" height="28" fill="#000" />
<rect x="217" y="489" width="3" height="26" fill="#fff" />
<rect x="226" y="473" width="1" height="26" fill="#000" />
<rect x="224" y="477" width="5" height="13" fill="#000" />
<rect x="225" y="478" width="3" height="11" fill="#fff" />
<rect x="234" y="438" width="1" height="46" fill="#000" />
<rect x="232" y="449" width="5" height="29" fill="#000" />
<rect x="233" y="450" width="3" height="27" fill="#fff" />
<rect x="242" y="440" width="1" height="36" fill="#000" />
<rect x="240" y="449" width="5" height="11" fill="#000" />
<rect x="250" y="452" width="1" height="35" fill="#000" />
<rect x="248" y="459" width="5" height="11" fill="#000" />
<rect x="258" y="307" width="1" height="171" fill="#000" />
<rect x="256" y="310" width="5" height="160" fill="#000" />
<rect x="257" y="311" width="3" height="158" fill="#fff" />
<rect x="266" y="287" width="1" height="27" fill="#000" />
<rect x="264" y="298" width="5" height="14" fill="#000" />
<rect x="265" y="299" width="3" height="12" fill="#fff" />
<rect x="274" y="273" width="1" height="26" fill="#000" />
<rect x="272" y="282" width="5" height="17" fill="#000" />
<rect x="273" y="283" width="3" height="15" fill="#fff" />
<rect x="282" y="257" width="1" height="63" fill="#000" />
<rect x="280" y="272" width="5" height="10" fill="#000" />
<rect x="281" y="273" width="3" height="8" fill="#fff" />
<rect x="290" y="264" width="1" height="57" fill="#000" />
<rect x="288" y="272" width="5" height="11" fill="#000" />
<rect x="298" y="278" width="1" height="40" fill="#000" />
<rect x="296" y="281" width="5" height="13" fill="#000" />
<rect x="306" y="276" width="1" height="44" fill="#000" />
<rect x="304" y="295" width="5" height="8" fill="#000" />
<rect x="314" y="298" width="1" height="38" fill="#000" />
<rect x="312" y="302" width="5" height="31" fill="#000" />
<rect x="322" y="310" width="1" height="23" fill="#000" />
<rect x="320" y="312" width="5" height="22" fill="#000" />
<rect x="321" y="313" width="3" height="20" fill="#fff" />
<rect x="330" y="284" width="1" height="31" fill="#000" />
<rect x="328" y="303" width="5" height="10" fill="#000" />
<rect x="329" y="304" width="3" height="8" fill="#fff" />
<rect x="338" y="302" width="1" height="46" fill="#000" />
<rect x="336" y="302" width="5" height="38" fill="#000" />
<rect x="346" y="335" width="1" height="33" fill="#000" />
<rect x="344" y="339" width="5" height="15" fill="#000" />
<rect x="354" y="326" width="1" height="53" fill="#000" />
<rect x="352" y="343" width="5" height="11" fill="#000" />
<rect x="353" y="344" width="3" height="9" fill="#fff" />
<rect x="362" y="328" width="1" height="19" fill="#000" />
<rect x="360" y="343" width="5" height="5" fill="#000" />
<rect x="370" y="331" width="1" height="13" fill="#000" />
<rect x="368" y="332" width="5" height="4" fill="#000" />
<rect x="369" y="333" width="3" height="2" fill="#fff" />
<rect x="378" y="315" width="1" height="48" fill="#000" />
<rect x="376" y="330" width="5" height="19" fill="#000" />
<rect x="386" y="336" width="1" height="52" fill="#000" />
<rect x="384" y="348" width="5" height="20" fill="#000" />
<rect x="394" y="352" width="1" height="51" fill="#000" />
<rect x="392" y="366" width="5" height="12" fill="#000" />
<rect x="402" y="359" width="1" height="33" fill="#000" />
<rect x="400" y="376" width="5" height="8" fill="#000" />
<rect x="410" y="375" width="1" height="23" fill="#000" />
<rect x="408" y="383" width="5" height="1" fill="#000" />
<rect x="418" y="367" width="1" height="18" fill="#000" />
<rect x="416" y="369" width="5" height="15" fill="#000" />
<rect x="417" y="370" width="3" height="13" fill="#fff" />
<rect x="426" y="360" width="1" height="37" fill="#000" />
<rect x="424" y="367" width="5" height="16" fill="#000" />
<rect x="434" y="371" width="1" height="60" fill="#000" />
<rect x="432" y="380" width="5" height="47" fill="#000" />
<rect x="442" y="404" width="1" height="46" fill="#000" />
<rect x="440" y="424" width="5" height="7" fill="#000" />
<rect x="450" y="413" width="1" height="40" fill="#000" />
<rect x="448" y="415" width="5" height="16" fill="#000" />
<rect x="449" y="416" width="3" height="14" fill="#fff" />
<rect x="458" y="415" width="1" height="32" fill="#000" />
<rect x="456" y="415" width="5" height="25" fill="#000" />
<rect x="466" y="431" width="1" height="23" fill="#000" />
<rect x="464" y="438" width="5" height="9" fill="#000" />
<rect x="474" y="403" width="1" height="44" fill="#000" />
<rect x="472" y="432" width="5" height="15" fill="#000" />
<rect x="473" y="433" width="3" height="13" fill="#fff" />
<rect x="482" y="394" width="1" height="44" fill="#000" />
<rect x="480" y="402" width="5" height="31" fill="#000" />
<rect x="481" y="403" width="3" height="29" fill="#fff" />
<rect x="490" y="349" width="1" height="63" fill="#000" />
<rect x="488" y="381" width="5" height="22" fill="#000" />
<rect x="489" y="382" width="3" height="20" fill="#fff" />
<rect x="498" y="375" width="1" height="132" fill="#000" />
<rect x="496" y="380" width="5" height="88" fill="#000" />
<rect x="506" y="357" width="1" height="116" fill="#000" />
<rect x="504" y="376" width="5" height="92" fill="#000" />
<rect x="505" y="377" width="3" height="90" fill="#fff" />
<rect x="514" y="355" width="1" height="29" fill="#000" />
<rect x="512" y="364" width="5" height="13" fill="#000" />
<rect x="513" y="365" width="3" height="11" fill="#fff" />
<rect x="522" y="358" width="1" height="41" fill="#000" />
<rect x="520" y="364" width="5" height="28" fill="#000" />
<rect x="530" y="383" width="1" height="44" fill="#000" />
<rect x="528" y="390" width="5" height="34" fill="#000" />
<rect x="538" y="413" width="1" height="32" fill="#000" />
<rect x="536" y="423" width="5" height="14" fill="#000" />
<rect x="546" y="413" width="1" height="57" fill="#000" />
<rect x="544" y="435" width="5" height="28" fill="#000" />
<rect x="554" y="452" width="1" height="15" fill="#000" />
<rect x="552" y="461" width="5" height="4" fill="#000" />
<rect x="562" y="445" width="1" height="25" fill="#000" />
<rect x="560" y="447" width="5" height="17" fill="#000" />
<rect x="561" y="448" width="3" height="15" fill="#fff" />
<rect x="570" y="439" width="1" height="23" fill="#000" />
<rect x="568" y="447" width="5" height="3" fill="#000" />
<rect x="569" y="448" width="3" height="1" fill="#fff" />
<rect x="578" y="447" width="1" height="38" fill="#000" />
<rect x="576" y="447" width="5" height="35" fill="#000" />
<rect x="586" y="452" width="1" height="47" fill="#000" />
<rect x="584" y="453" width="5" height="29" fill="#000" />
<rect x="585" y="454" width="3" height="27" fill="#fff" />
<rect x="594" y="421" width="1" height="63" fill="#000" />
<rect x="592" y="432" width="5" height="21" fill="#000" />
<rect x="593" y="433" width="3" height="19" fill="#fff" />
<rect x="602" y="417" width="1" height="20" fill="#000" />
<rect x="600" y="431" width="5" height="5" fill="#000" />
<rect x="610" y="428" width="1" height="11" fill="#000" />
<rect x="608" y="429" width="5" height="8" fill="#000" />
<rect x="618" y="420" width="1" height="31" fill="#000" />
<rect x="616" y="436" width="5" height="13" fill="#000" />
<rect x="626" y="445" width="1" height="36" fill="#000" />
<rect x="624" y="447" width="5" height="21" fill="#000" />
<rect x="634" y="422" width="1" height="50" fill="#000" />
<rect x="632" y="433" width="5" height="35" fill="#000" />
<rect x="633" y="434" width="3" height="33" fill="#fff" />
<rect x="642" y="430" width="1" height="49" fill="#000" />
<rect x="640" y="433" width="5" height="25" fill="#000" />
<rect x="650" y="453" width="1" height="14" fill="#000" />
<rect x="648" y="457" width="5" height="9" fill="#000" />
<rect x="658" y="446" width="1" height="26" fill="#000" />
<rect x="656" y="449" width="5" height="16" fill="#000" />
<rect x="657" y="450" width="3" height="14" fill="#fff" />
<rect x="666" y="448" width="1" height="36" fill="#000" />
<rect x="664" y="450" width="5" height="30" fill="#000" />
<rect x="674" y="462" width="1" height="46" fill="#000" />
<rect x="672" y="474" width="5" height="5" fill="#000" />
<rect x="673" y="475" width="3" height="3" fill="#fff" />
<rect x="682" y="425" width="1" height="52" fill="#000" />
<rect x="680" y="444" width="5" height="33" fill="#000" />
<rect x="681" y="445" width="3" height="31" fill="#fff" />
<rect x="690" y="404" width="1" height="48" fill="#000" />
<rect x="688" y="427" width="5" height="20" fill="#000" />
<rect x="689" y="428" width="3" height="18" fill="#fff" />
<rect x="698" y="416" width="1" height="65" fill="#000" />
<rect x="696" y="426" width="5" height="47" fill="#000" />
<rect x="706" y="455" width="1" height="19" fill="#000" />
<rect x="704" y="461" width="5" height="13" fill="#000" />
<rect x="705" y="462" width="3" height="11" fill="#fff" />
<rect x="714" y="453" width="1" height="23" fill="#000" />
<rect x="712" y="458" width="5" height="2" fill="#000" />
<rect x="722" y="438" width="1" height="31" fill="#000" />
<rect x="720" y="453" width="5" height="6" fill="#000" />
<rect x="721" y="454" width="3" height="4" fill="#fff" />
<rect x="730" y="431" width="1" height="29" fill="#000" />
<rect x="728" y="437" width="5" height="17" fill="#000" />
<rect x="729" y="438" width="3" height="15" fill="#fff" />
<rect x="738" y="389" width="1" height="58" fill="#000" />
<rect x="736" y="397" width="5" height="41" fill="#000" />
<rect x="737" y="398" width="3" height="39" fill="#fff" />
<rect x="746" y="382" width="1" height="25" fill="#000" />
<rect x="744" y="389" width="5" height="9" fill="#000" />
<rect x="745" y="390" width="3" height="7" fill="#fff" />
<rect x="754" y="382" width="1" height="14" fill="#000" />
<rect x="752" y="383" width="5" height="7" fill="#000" />
<rect x="753" y="384" width="3" height="5" fill="#fff" />
<rect x="762" y="376" width="1" height="35" fill="#000" />
<rect x="760" y="383" width="5" height="25" fill="#000" />
<rect x="770" y="387" width="1" height="25" fill="#000" />
<rect x="768" y="399" width="5" height="9" fill="#000" />
<rect x="769" y="400" width="3" height="7" fill="#fff" />
<rect x="778" y="365" width="1" height="43" fill="#000" />
<rect x="776" y="372" width="5" height="28" fill="#000" />
<rect x="777" y="373" width="3" height="26" fill="#fff" />
<rect x="786" y="243" width="1" height="130" fill="#000" />
<rect x="784" y="250" width="5" height="123" fill="#000" />
<rect x="785" y="251" width="3" height="121" fill="#fff" />
<rect x="794" y="229" width="1" height="35" fill="#000" />
<rect x="792" y="250" width="5" height="9" fill="#000" />
<rect x="802" y="241" width="1" height="23" fill="#000" />
<rect x="800" y="252" width="5" height="6" fill="#000" />
<rect x="801" y="253" width="3" height="4" fill="#fff" />
<rect x="810" y="222" width="1" height="30" fill="#000" />
<rect x="808" y="232" width="5" height="20" fill="#000" />
<rect x="809" y="233" width="3" height="18" fill="#fff" />
<rect x="818" y="223" width="1" height="29" fill="#000" />
<rect x="816" y="232" width="5" height="4" fill="#000" />
<rect x="826" y="196" width="1" height="60" fill="#000" />
<rect x="824" y="204" width="5" height="32" fill="#000" />
<rect x="825" y="205" width="3" height="30" fill="#fff" />
<rect x="834" y="172" width="1" height="81" fill="#000" />
<rect x="832" y="204" width="5" height="42" fill="#000" />
<rect x="842" y="244" width="1" height="23" fill="#000" />
<rect x="840" y="246" width="5" height="9" fill="#000" />
<rect x="850" y="227" width="1" height="15" fill="#000" />
<rect x="848" y="232" width="5" height="10" fill="#000" />
<rect x="849" y="233" width="3" height="8" fill="#fff" />
<rect x="858" y="226" width="1" height="63" fill="#000" />
<rect x="856" y="233" width="5" height="45" fill="#000" />
<rect x="866" y="255" width="1" height="32" fill="#000" />
<rect x="864" y="272" width="5" height="6" fill="#000" />
<rect x="865" y="273" width="3" height="4" fill="#fff" />
<rect x="874" y="265" width="1" height="23" fill="#000" />
<rect x="872" y="271" width="5" height="13" fill="#000" />
<rect x="882" y="278" width="1" height="69" fill="#000" />
<rect x="880" y="281" width="5" height="41" fill="#000" />
<rect x="890" y="304" width="1" height="20" fill="#000" />
<rect x="888" y="306" width="5" height="14" fill="#000" />
<rect x="889" y="307" width="3" height="12" fill="#fff" />
<rect x="898" y="299" width="1" height="19" fill="#000" />
<rect x="896" y="305" width="5" height="13" fill="#000" />
<rect x="906" y="307" width="1" height="44" fill="#000" />
<rect x="904" y="317" width="5" height="12" fill="#000" />
<rect x="914" y="308" width="1" height="25" fill="#000" />
<rect x="912" y="318" width="5" height="10" fill="#000" />
<rect x="913" y="319" width="3" height="8" fill="#fff" />
<rect x="922" y="279" width="1" height="41" fill="#000" />
<rect x="920" y="289" width="5" height="31" fill="#000" />
<rect x="921" y="290" width="3" height="29" fill="#fff" />
<rect x="930" y="274" width="1" height="74" fill="#000" />
<rect x="928" y="288" width="5" height="44" fill="#000" />
<rect x="938" y="319" width="1" height="19" fill="#000" />
<rect x="936" y="321" width="5" height="11" fill="#000" />
<rect x="937" y="322" width="3" height="9" fill="#fff" />
<rect x="946" y="314" width="1" height="11" fill="#000" />
<rect x="944" y="317" width="5" height="5" fill="#000" />
<rect x="945" y="318" width="3" height="3" fill="#fff" />
<rect x="954" y="283" width="1" height="36" fill="#000" />
<rect x="952" y="292" width="5" height="26" fill="#000" />
<rect x="953" y="293" width="3" height="24" fill="#fff" />
<rect x="962" y="258" width="1" height="38" fill="#000" />
<rect x="960" y="260" width="5" height="32" fill="#000" />
<rect x="961" y="261" width="3" height="30" fill="#fff" />
<rect x="970" y="237" width="1" height="29" fill="#000" />
<rect x="968" y="255" width="5" height="8" fill="#000" />
<rect x="969" y="256" width="3" height="6" fill="#fff" />
<rect x="978" y="255" width="1" height="48" fill="#000" />
<rect x="976" y="256" width="5" height="40" fill="#000" />
<rect x="986" y="288" width="1" height="23" fill="#000" />
<rect x="984" y="296" width="5" height="11" fill="#000" />
<rect x="994" y="292" width="1" height="16" fill="#000" />
<rect x="992" y="297" width="5" height="10" fill="#000" />
<rect x="993" y="298" width="3" height="8" fill="#fff" />
<rect x="1002" y="276" width="1" height="27" fill="#000" />
<rect x="1000" y="279" width="5" height="20" fill="#000" />
<rect x="1001" y="280" width="3" height="18" fill="#fff" />
<rect x="1010" y="246" width="1" height="35" fill="#000" />
<rect x="1008" y="247" width="5" height="33" fill="#000" />
<rect x="1009" y="248" width="3" height="31" fill="#fff" />
<rect x="1018" y="244" width="1" height="47" fill="#000" />
<rect x="1016" y="247" width="5" height="10" fill="#000" />
<rect x="1026" y="150" width="1" height="112" fill="#000" />
<rect x="1024" y="155" width="5" height="101" fill="#000" />
<rect x="1025" y="156" width="3" height="99" fill="#fff" />
<rect x="1034" y="149" width="1" height="17" fill="#000" />
<rect x="1032" y="154" width="5" height="5" fill="#000" />
<rect x="1042" y="144" width="1" height="19" fill="#000" />
<rect x="1040" y="154" width="5" height="3" fill="#000" />
<rect x="1041" y="155" width="3" height="1" fill="#fff" />
<rect x="1050" y="146" width="1" height="38" fill="#000" />
<rect x="1048" y="154" width="5" height="13" fill="#000" />
<rect x="1058" y="155" width="1" height="26" fill="#000" />
<rect x="1056" y="166" width="5" height="11" fill="#000" />
<rect x="1066" y="171" width="1" height="25" fill="#000" />
<rect x="1064" y="176" width="5" height="18" fill="#000" />
<rect x="1074" y="188" width="1" height="156" fill="#000" />
<rect x="1072" y="192" width="5" height="140" fill="#000" />
<rect x="1082" y="308" width="1" height="23" fill="#000" />
<rect x="1080" y="316" width="5" height="15" fill="#000" />
<rect x="1081" y="317" width="3" height="13" fill="#fff" />
<rect x="1090" y="288" width="1" height="14" fill="#000" />
<rect x="1088" y="291" width="5" height="8" fill="#000" />
<rect x="1089" y="292" width="3" height="6" fill="#fff" />
<rect x="1098" y="288" width="1" height="34" fill="#000" />
<rect x="1096" y="292" width="5" height="12" fill="#000" />
<rect x="1106" y="297" width="1" height="43" fill="#000" />
<rect x="1104" y="302" width="5" height="31" fill="#000" />
<rect x="1114" y="316" width="1" height="52" fill="#000" />
<rect x="1112" y="331" width="5" height="27" fill="#000" />
<rect x="1122" y="344" width="1" height="36" fill="#000" />
<rect x="1120" y="357" width="5" height="10" fill="#000" />
<rect x="1130" y="356" width="1" height="16" fill="#000" />
<rect x="1128" y="365" width="5" height="4" fill="#000" />
<rect x="1138" y="360" width="1" height="11" fill="#000" />
<rect x="1136" y="362" width="5" height="7" fill="#000" />
<rect x="1137" y="363" width="3" height="5" fill="#fff" />
<rect x="1146" y="328" width="1" height="50" fill="#000" />
<rect x="1144" y="332" width="5" height="31" fill="#000" />
<rect x="1145" y="333" width="3" height="29" fill="#fff" />
<rect x="1154" y="308" width="1" height="31" fill="#000" />
<rect x="1152" y="311" width="5" height="22" fill="#000" />
<rect x="1153" y="312" width="3" height="20" fill="#fff" />
<rect x="1162" y="303" width="1" height="41" fill="#000" />
<rect x="1160" y="310" width="5" height="25" fill="#000" />
<rect x="1170" y="313" width="1" height="49" fill="#000" />
<rect x="1168" y="322" width="5" height="12" fill="#000" />
<rect x="1169" y="323" width="3" height="10" fill="#fff" />
<rect x="1178" y="313" width="1" height="13" fill="#000" />
<rect x="1176" y="321" width="5" height="2" fill="#000" />
<rect x="1186" y="313" width="1" height="13" fill="#000" />
<rect x="1184" y="321" width="5" height="2" fill="#000" />
<rect x="1194" y="318" width="1" height="18" fill="#000" />
<rect x="1192" y="319" width="5" height="4" fill="#000" />
<rect x="1193" y="320" width="3" height="2" fill="#fff" />
<rect x="1202" y="315" width="1" height="35" fill="#000" />
<rect x="1200" y="319" width="5" height="8" fill="#000" />
<rect x="1210" y="317" width="1" height="29" fill="#000" />
<rect x="1208" y="326" width="5" height="15" fill="#000" />
<rect x="1218" y="285" width="1" height="87" fill="#000" />
<rect x="1216" y="292" width="5" height="49" fill="#000" />
<rect x="1217" y="293" width="3" height="47" fill="#fff" />
<rect x="1226" y="283" width="1" height="22" fill="#000" />
<rect x="1224" y="290" width="5" height="3" fill="#000" />
<rect x="1225" y="291" width="3" height="1" fill="#fff" />
<rect x="1234" y="283" width="1" height="14" fill="#000" />
<rect x="1232" y="289" width="5" height="5" fill="#000" />
<rect x="1242" y="279" width="1" height="34" fill="#000" />
<rect x="1240" y="292" width="5" height="16" fill="#000" />
<rect x="1250" y="298" width="1" height="29" fill="#000" />
<rect x="1248" y="305" width="5" height="2" fill="#000" />
<rect x="1258" y="303" width="1" height="23" fill="#000" />
<rect x="1256" y="306" width="5" height="7" fill="#000" />
<rect x="1266" y="256" width="1" height="77" fill="#000" />
<rect x="1264" y="309" width="5" height="10" fill="#000" />
<rect x="1274" y="316" width="1" height="37" fill="#000" />
<rect x="1272" y="317" width="5" height="37" fill="#000" />
<rect x="1282" y="335" width="1" height="21" fill="#000" />
<rect x="1280" y="338" width="5" height="16" fill="#000" />
<rect x="1281" y="339" width="3" height="14" fill="#fff" />
<rect x="1290" y="326" width="1" height="17" fill="#000" />
<rect x="1288" y="336" width="5" height="3" fill="#000" />
<rect x="1289" y="337" width="3" height="1" fill="#fff" />
<rect x="1298" y="320" width="1" height="33" fill="#000" />
<rect x="1296" y="331" width="5" height="7" fill="#000" />
<rect x="1297" y="332" width="3" height="5" fill="#fff" />
<rect x="1306" y="301" width="1" height="34" fill="#000" />
<rect x="1304" y="303" width="5" height="29" fill="#000" />
<rect x="1305" y="304" width="3" height="27" fill="#fff" />
<rect x="1314" y="246" width="1" height="59" fill="#000" />
<rect x="1312" y="264" width="5" height="40" fill="#000" />
<rect x="1313" y="265" width="3" height="38" fill="#fff" />
<rect x="1322" y="260" width="1" height="16" fill="#000" />
<rect x="1320" y="264" width="5" height="11" fill="#000" />
<rect x="1330" y="268" width="1" height="7" fill="#000" />
<rect x="1328" y="270" width="5" height="2" fill="#000" />
<rect x="1338" y="248" width="1" height="28" fill="#000" />
<rect x="1336" y="261" width="5" height="12" fill="#000" />
<rect x="1337" y="262" width="3" height="10" fill="#fff" />
<rect x="1346" y="258" width="1" height="31" fill="#000" />
<rect x="1344" y="260" width="5" height="18" fill="#000" />
<rect x="1354" y="262" width="1" height="31" fill="#000" />
<rect x="1352" y="262" width="5" height="16" fill="#000" />
<rect x="1353" y="263" width="3" height="14" fill="#fff" />
<rect x="1362" y="213" width="1" height="60" fill="#000" />
<rect x="1360" y="216" width="5" height="47" fill="#000" />
<rect x="1361" y="217" width="3" height="45" fill="#fff" />
<rect x="1370" y="193" width="1" height="24" fill="#000" />
<rect x="1368" y="202" width="5" height="16" fill="#000" />
<rect x="1369" y="203" width="3" height="14" fill="#fff" />
<rect x="1378" y="193" width="1" height="15" fill="#000" />
<rect x="1376" y="202" width="5" height="5" fill="#000" />
<rect x="1386" y="182" width="1" height="27" fill="#000" />
<rect x="1384" y="195" width="5" height="11" fill="#000" />
<rect x="1385" y="196" width="3" height="9" fill="#fff" />
<rect x="1394" y="185" width="1" height="32" fill="#000" />
<rect x="1392" y="191" width="5" height="13" fill="#000" />
<rect x="1402" y="178" width="1" height="34" fill="#000" />
<rect x="1400" y="189" width="5" height="15" fill="#000" />
<rect x="1401" y="190" width="3" height="13" fill="#fff" />
<rect x="1410" y="180" width="1" height="30" fill="#000" />
<rect x="1408" y="187" width="5" height="2" fill="#000" />
<rect x="1418" y="181" width="1" height="23" fill="#000" />
<rect x="1416" y="187" width="5" height="17" fill="#000" />
<rect x="1426" y="194" width="1" height="15" fill="#000" />
<rect x="1424" y="196" width="5" height="10" fill="#000" />
<rect x="1425" y="197" width="3" height="8" fill="#fff" />
<rect x="1434" y="184" width="1" height="16" fill="#000" />
<rect x="1432" y="193" width="5" height="5" fill="#000" />
<rect x="1433" y="194" width="3" height="3" fill="#fff" />
<rect x="1442" y="186" width="1" height="49" fill="#000" />
<rect x="1440" y="193" width="5" height="34" fill="#000" />
<rect x="1450" y="217" width="1" height="18" fill="#000" />
<rect x="1448" y="225" width="5" height="8" fill="#000" />
<rect x="1458" y="228" width="1" height="25" fill="#000" />
<rect x="1456" y="230" width="5" height="11" fill="#000" />
<rect x="1466" y="83" width="1" height="160" fill="#000" />
<rect x="1464" y="83" width="5" height="157" fill="#000" />
<rect x="1465" y="84" width="3" height="155" fill="#fff" />
<rect x="1474" y="65" width="1" height="21" fill="#000" />
<rect x="1472" y="68" width="5" height="16" fill="#000" />
<rect x="1473" y="69" width="3" height="14" fill="#fff" />
</g>
<g clip-path="url(#cmacd)">
<rect x="2" y="640" width="1" height="59" fill="#c0c0c0" />
<rect x="10" y="643" width="1" height="56" fill="#c0c0c0" />
<rect x="18" y="648" width="1" height="51" fill="#c0c0c0" />
<rect x="26" y="654" width="1" height="45" fill="#c0c0c0" />
<rect x="34" y="659" width="1" height="40" fill="#c0c0c0" />
<rect x="42" y="659" width="1" height="40" fill="#c0c0c0" />
<rect x="50" y="660" width="1" height="39" fill="#c0c0c0" />
<rect x="58" y="667" width="1" height="32" fill="#c0c0c0" />
<rect x="66" y="673" width="1" height="26" fill="#c0c0c0" />
<rect x="74" y="681" width="1" height="18" fill="#c0c0c0" />
<rect x="82" y="688" width="1" height="11" fill="#c0c0c0" />
<rect x="90" y="692" width="1" height="7" fill="#c0c0c0" />
<rect x="98" y="693" width="1" height="6" fill="#c0c0c0" />
<rect x="106" y="693" width="1" height="6" fill="#c0c0c0" />
<rect x="114" y="698" width="1" height="16" fill="#c0c0c0" />
<rect x="122" y="698" width="1" height="30" fill="#c0c0c0" />
<rect x="130" y="698" width="1" height="41" fill="#c0c0c0" />
<rect x="138" y="698" width="1" height="40" fill="#c0c0c0" />
<rect x="146" y="698" width="1" height="38" fill="#c0c0c0" />
<rect x="154" y="698" width="1" height="39" fill="#c0c0c0" />
<rect x="162" y="698" width="1" height="43" fill="#c0c0c0" />
<rect x="170" y="698" width="1" height="43" fill="#c0c0c0" />
<rect x="178" y="698" width="1" height="39" fill="#c0c0c0" />
<rect x="186" y="698" width="1" height="34" fill="#c0c0c0" />
<rect x="194" y="698" width="1" height="32" fill="#c0c0c0" />
<rect x="202" y="698" width="1" height="39" fill="#c0c0c0" />
<rect x="210" y="698" width="1" height="45" fill="#c0c0c0" />
<rect x="218" y="698" width="1" height="46" fill="#c0c0c0" />
<rect x="226" y="698" width="1" height="43" fill="#c0c0c0" />
<rect x="234" y="698" width="1" height="38" fill="#c0c0c0" />
<rect x="242" y="698" width="1" height="34" fill="#c0c0c0" />
<rect x="250" y="698" width="1" height="33" fill="#c0c0c0" />
<rect x="258" y="698" width="1" height="7" fill="#c0c0c0" />
<rect x="266" y="682" width="1" height="17" fill="#c0c0c0" />
<rect x="274" y="662" width="1" height="37" fill="#c0c0c0" />
<rect x="282" y="645" width="1" height="54" fill="#c0c0c0" />
<rect x="290" y="635" width="1" height="64" fill="#c0c0c0" />
<rect x="298" y="628" width="1" height="71" fill="#c0c0c0" />
<rect x="306" y="626" width="1" height="73" fill="#c0c0c0" />
<rect x="314" y="628" width="1" height="71" fill="#c0c0c0" />
<rect x="322" y="630" width="1" height="69" fill="#c0c0c0" />
<rect x="330" y="629" width="1" height="70" fill="#c0c0c0" />
<rect x="338" y="636" width="1" height="63" fill="#c0c0c0" />
<rect x="346" y="643" width="1" height="56" fill="#c0c0c0" />
<rect x="354" y="648" width="1" height="51" fill="#c0c0c0" />
<rect x="362" y="653" width="1" height="46" fill="#c0c0c0" />
<rect x="370" y="656" width="1" height="43" fill="#c0c0c0" />
<rect x="378" y="660" width="1" height="39" fill="#c0c0c0" />
<rect x="386" y="667" width="1" height="32" fill="#c0c0c0" />
<rect x="394" y="675" width="1" height="24" fill="#c0c0c0" />
<rect x="402" y="682" width="1" height="17" fill="#c0c0c0" />
<rect x="410" y="688" width="1" height="11" fill="#c0c0c0" />
<rect x="418" y="690" width="1" height="9" fill="#c0c0c0" />
<rect x="426" y="694" width="1" height="5" fill="#c0c0c0" />
<rect x="434" y="698" width="1" height="6" fill="#c0c0c0" />
<rect x="442" y="698" width="1" height="14" fill="#c0c0c0" />
<rect x="450" y="698" width="1" height="18" fill="#c0c0c0" />
<rect x="458" y="698" width="1" height="25" fill="#c0c0c0" />
<rect x="466" y="698" width="1" height="31" fill="#c0c0c0" />
<rect x="474" y="698" width="1" height="34" fill="#c0c0c0" />
<rect x="482" y="698" width="1" height="30" fill="#c0c0c0" />
<rect x="490" y="698" width="1" height="24" fill="#c0c0c0" />
<rect x="498" y="698" width="1" height="33" fill="#c0c0c0" />
<rect x="506" y="698" width="1" height="25" fill="#c0c0c0" />
<rect x="514" y="698" width="1" height="16" fill="#c0c0c0" />
<rect x="522" y="698" width="1" height="14" fill="#c0c0c0" />
<rect x="530" y="698" width="1" height="16" fill="#c0c0c0" />
<rect x="538" y="698" width="1" height="20" fill="#c0c0c0" />
<rect x="546" y="698" width="1" height="26" fill="#c0c0c0" />
<rect x="554" y="698" width="1" height="33" fill="#c0c0c0" />
<rect x="562" y="698" width="1" height="34" fill="#c0c0c0" />
<rect x="570" y="698" width="1" height="34" fill="#c0c0c0" />
<rect x="578" y="698" width="1" height="39" fill="#c0c0c0" />
<rect x="586" y="698" width="1" height="38" fill="#c0c0c0" />
<rect x="594" y="698" width="1" height="34" fill="#c0c0c0" />
<rect x="602" y="698" width="1" height="31" fill="#c0c0c0" />
<rect x="610" y="698" width="1" height="29" fill="#c0c0c0" />
<rect x="618" y="698" width="1" height="29" fill="#c0c0c0" />
<rect x="626" y="698" width="1" height="31" fill="#c0c0c0" />
<rect x="634" y="698" width="1" height="27" fill="#c0c0c0" />
<rect x="642" y="698" width="1" height="28" fill="#c0c0c0" />
<rect x="650" y="698" width="1" height="29" fill="#c0c0c0" />
<rect x="658" y="698" width="1" height="29" fill="#c0c0c0" />
<rect x="666" y="698" width="1" height="30" fill="#c0c0c0" />
<rect x="674" y="698" width="1" height="30" fill="#c0c0c0" />
<rect x="682" y="698" width="1" height="28" fill="#c0c0c0" />
<rect x="690" y="698" width="1" height="21" fill="#c0c0c0" />
<rect x="698" y="698" width="1" height="23" fill="#c0c0c0" />
<rect x="706" y="698" width="1" height="22" fill="#c0c0c0" />
<rect x="714" y="698" width="1" height="21" fill="#c0c0c0" />
<rect x="722" y="698" width="1" height="20" fill="#c0c0c0" />
<rect x="730" y="698" width="1" height="15" fill="#c0c0c0" />
<rect x="738" y="698" width="1" height="5" fill="#c0c0c0" />
<rect x="746" y="695" width="1" height="4" fill="#c0c0c0" />
<rect x="754" y="687" width="1" height="12" fill="#c0c0c0" />
<rect x="762" y="685" width="1" height="14" fill="#c0c0c0" />
<rect x="770" y="682" width="1" height="17" fill="#c0c0c0" />
<rect x="778" y="676" width="1" height="23" fill="#c0c0c0" />
<rect x="786" y="653" width="1" height="46" fill="#c0c0c0" />
<rect x="794" y="636" width="1" height="63" fill="#c0c0c0" />
<rect x="802" y="623" width="1" height="76" fill="#c0c0c0" />
<rect x="810" y="610" width="1" height="89" fill="#c0c0c0" />
<rect x="818" y="602" width="1" height="97" fill="#c0c0c0" />
<rect x="826" y="592" width="1" height="107" fill="#c0c0c0" />
<rect x="834" y="591" width="1" height="108" fill="#c0c0c0" />
<rect x="842" y="593" width="1" height="106" fill="#c0c0c0" />
<rect x="850" y="593" width="1" height="106" fill="#c0c0c0" />
<rect x="858" y="601" width="1" height="98" fill="#c0c0c0" />
<rect x="866" y="607" width="1" height="92" fill="#c0c0c0" />
<rect x="874" y="615" width="1" height="84" fill="#c0c0c0" />
<rect x="882" y="628" width="1" height="71" fill="#c0c0c0" />
<rect x="890" y="636" width="1" height="63" fill="#c0c0c0" />
<rect x="898" y="646" width="1" height="53" fill="#c0c0c0" />
<rect x="906" y="655" width="1" height="44" fill="#c0c0c0" />
<rect x="914" y="662" width="1" height="37" fill="#c0c0c0" />
<rect x="922" y="663" width="1" height="36" fill="#c0c0c0" />
<rect x="930" y="670" width="1" height="29" fill="#c0c0c0" />
<rect x="938" y="675" width="1" height="24" fill="#c0c0c0" />
<rect x="946" y="678" width="1" height="21" fill="#c0c0c0" />
<rect x="954" y="677" width="1" height="22" fill="#c0c0c0" />
<rect x="962" y="672" width="1" height="27" fill="#c0c0c0" />
<rect x="970" y="668" width="1" height="31" fill="#c0c0c0" />
<rect x="978" y="670" width="1" height="29" fill="#c0c0c0" />
<rect x="986" y="673" width="1" height="26" fill="#c0c0c0" />
<rect x="994" y="677" width="1" height="22" fill="#c0c0c0" />
<rect x="1002" y="676" width="1" height="23" fill="#c0c0c0" />
<rect x="1010" y="671" width="1" height="28" fill="#c0c0c0" />
<rect x="1018" y="668" width="1" height="31" fill="#c0c0c0" />
<rect x="1026" y="651" width="1" height="48" fill="#c0c0c0" />
<rect x="1034" y="638" width="1" height="61" fill="#c0c0c0" />
<rect x="1042" y="629" width="1" height="70" fill="#c0c0c0" />
<rect x="1050" y="624" width="1" height="75" fill="#c0c0c0" />
<rect x="1058" y="622" width="1" height="77" fill="#c0c0c0" />
<rect x="1066" y="625" width="1" height="74" fill="#c0c0c0" />
<rect x="1074" y="648" width="1" height="51" fill="#c0c0c0" />
<rect x="1082" y="665" width="1" height="34" fill="#c0c0c0" />
<rect x="1090" y="676" width="1" height="23" fill="#c0c0c0" />
<rect x="1098" y="685" width="1" height="14" fill="#c0c0c0" />
<rect x="1106" y="698" width="1" height="1" fill="#c0c0c0" />
<rect x="1114" y="698" width="1" height="13" fill="#c0c0c0" />
<rect x="1122" y="698" width="1" height="24" fill="#c0c0c0" />
<rect x="1130" y="698" width="1" height="34" fill="#c0c0c0" />
<rect x="1138" y="698" width="1" height="41" fill="#c0c0c0" />
<rect x="1146" y="698" width="1" height="40" fill="#c0c0c0" />
<rect x="1154" y="698" width="1" height="36" fill="#c0c0c0" />
<rect x="1162" y="698" width="1" height="37" fill="#c0c0c0" />
<rect x="1170" y="698" width="1" height="34" fill="#c0c0c0" />
<rect x="1178" y="698" width="1" height="33" fill="#c0c0c0" />
<rect x="1186" y="698" width="1" height="30" fill="#c0c0c0" />
<rect x="1194" y="698" width="1" height="28" fill="#c0c0c0" />
<rect x="1202" y="698" width="1" height="27" fill="#c0c0c0" />
<rect x="1210" y="698" width="1" height="26" fill="#c0c0c0" />
<rect x="1218" y="698" width="1" height="20" fill="#c0c0c0" />
<rect x="1226" y="698" width="1" height="14" fill="#c0c0c0" />
<rect x="1234" y="698" width="1" height="9" fill="#c0c0c0" />
<rect x="1242" y="698" width="1" height="8" fill="#c0c0c0" />
<rect x="1250" y="698" width="1" height="7" fill="#c0c0c0" />
<rect x="1258" y="698" width="1" height="7" fill="#c0c0c0" />
<rect x="1266" y="698" width="1" height="8" fill="#c0c0c0" />
<rect x="1274" y="698" width="1" height="14" fill="#c0c0c0" />
<rect x="1282" y="698" width="1" height="16" fill="#c0c0c0" />
<rect x="1290" y="698" width="1" height="17" fill="#c0c0c0" />
<rect x="1298" y="698" width="1" height="17" fill="#c0c0c0" />
<rect x="1306" y="698" width="1" height="13" fill="#c0c0c0" />
<rect x="1314" y="698" width="1" height="3" fill="#c0c0c0" />
<rect x="1322" y="696" width="1" height="3" fill="#c0c0c0" />
<rect x="1330" y="690" width="1" height="9" fill="#c0c0c0" />
<rect x="1338" y="685" width="1" height="14" fill="#c0c0c0" />
<rect x="1346" y="683" width="1" height="16" fill="#c0c0c0" />
<rect x="1354" y="682" width="1" height="17" fill="#c0c0c0" />
<rect x="1362" y="671" width="1" height="28" fill="#c0c0c0" />
<rect x="1370" y="660" width="1" height="39" fill="#c0c0c0" />
<rect x="1378" y="654" width="1" height="45" fill="#c0c0c0" />
<rect x="1386" y="648" width="1" height="51" fill="#c0c0c0" />
<rect x="1394" y="645" width="1" height="54" fill="#c0c0c0" />
<rect x="1402" y="641" width="1" height="58" fill="#c0c0c0" />
<rect x="1410" y="640" width="1" height="59" fill="#c0c0c0" />
<rect x="1418" y="640" width="1" height="59" fill="#c0c0c0" />
<rect x="1426" y="640" width="1" height="59" fill="#c0c0c0" />
<rect x="1434" y="641" width="1" height="58" fill="#c0c0c0" />
<rect x="1442" y="646" width="1" height="53" fill="#c0c0c0" />
<rect x="1450" y="652" width="1" height="47" fill="#c0c0c0" />
<rect x="1458" y="659" width="1" height="40" fill="#c0c0c0" />
<rect x="1466" y="638" width="1" height="61" fill="#c0c0c0" />
<rect x="1474" y="625" width="1" height="74" fill="#c0c0c0" />
<polyline points="0.0,627.0 2.0,627.6 4.0,628.1 6.0,628.8 8.0,629.4 10.0,630.1 12.0,630.9 14.0,631.6 16.0,632.4 18.0,633.2 20.0,634.0 22.0,634.9 24.0,635.9 26.0,637.0 28.0,638.1 30.0,639.2 32.0,640.2 34.0,641.2 36.0,642.1 38.0,642.8 40.0,643.4 42.0,644.0 44.0,644.5 46.0,645.1 48.0,645.7 50.0,646.3 52.0,647.1 54.0,647.8 56.0,648.6 58.0,649.5 60.0,650.3 62.0,651.3 64.0,652.3 66.0,653.3 68.0,654.4 70.0,655.8 72.0,657.2 74.0,658.8 76.0,660.4 78.0,662.0 80.0,663.5 82.0,664.9 84.0,666.0 86.0,667.1 88.0,668.1 90.0,669.0 92.0,669.9 94.0,670.8 96.0,671.7 98.0,672.6 100.0,673.7 102.0,674.7 104.0,675.8 106.0,677.0 108.0,678.3 110.0,679.7 112.0,681.3 114.0,683.3 116.0,685.4 118.0,687.6 120.0,689.7 122.0,691.7 124.0,693.8 126.0,695.9 128.0,697.9 130.0,699.7 132.0,701.3 134.0,702.7 136.0,704.1 138.0,705.5 140.0,707.0 142.0,708.7 144.0,710.5 146.0,712.3 148.0,714.1 150.0,715.7 152.0,717.0 154.0,718.2 156.0,719.4 158.0,720.5 160.0,721.6 162.0,722.8 164.0,724.1 166.0,725.7 168.0,727.3 170.0,728.9 172.0,730.4 174.0,731.8 176.0,733.0 178.0,734.2 180.0,735.2 182.0,735.7 184.0,736.1 186.0,736.4 188.0,736.6 190.0,736.7 192.0,736.7 194.0,736.8 196.0,736.8 198.0,736.8 200.0,736.8 202.0,736.8 204.0,736.9 206.0,736.9 208.0,736.9 210.0,736.9 212.0,737.0 214.0,737.0 216.0,737.2 218.0,737.5 220.0,737.9 222.0,738.2 224.0,738.5 226.0,738.7 228.0,738.6 230.0,738.4 232.0,738.1 234.0,737.7 236.0,737.3 238.0,736.9 240.0,736.7 242.0,736.5 244.0,736.4 246.0,736.3 248.0,736.2 250.0,736.0 252.0,735.5 254.0,734.7 256.0,733.7 258.0,732.5 260.0,731.3 262.0,730.2 264.0,729.0 266.0,727.7 268.0,726.3 270.0,724.7 272.0,722.8 274.0,720.6 276.0,718.2 278.0,715.6 280.0,713.0 282.0,710.3 284.0,707.4 286.0,704.4 288.0,701.3 290.0,698.0 292.0,694.5 294.0,690.6 296.0,686.7 298.0,683.0 300.0,679.7 302.0,676.8 304.0,674.2 306.0,671.8 308.0,669.4 310.0,667.1 312.0,664.7 314.0,662.1 316.0,659.5 318.0,656.8 320.0,654.1 322.0,651.4 324.0,648.8 326.0,646.1 328.0,643.5 330.0,641.3 332.0,639.6 334.0,638.1 336.0,636.8 338.0,635.6 340.0,634.7 342.0,633.8 344.0,633.0 346.0,632.3 348.0,632.0 350.0,632.1 352.0,632.4 354.0,632.9 356.0,633.4 358.0,633.9 360.0,634.3 362.0,634.7 364.0,635.0 366.0,635.5 368.0,636.1 370.0,636.8 372.0,637.7 374.0,638.7 376.0,639.8 378.0,640.9 380.0,642.0 382.0,643.1 384.0,644.4 386.0,645.7 388.0,647.0 390.0,648.4 392.0,649.7 394.0,651.1 396.0,652.5 398.0,653.9 400.0,655.4 402.0,656.9 404.0,658.3 406.0,659.8 408.0,661.4 410.0,663.0 412.0,664.6 414.0,666.1 416.0,667.6 418.0,668.8 420.0,670.0 422.0,671.0 424.0,672.0 426.0,673.0 428.0,673.9 430.0,675.0 432.0,676.2 434.0,677.4 436.0,678.9 438.0,680.5 440.0,682.2 442.0,684.0 444.0,685.8 446.0,687.5 448.0,689.1 450.0,690.7 452.0,692.3 454.0,693.9 456.0,695.5 458.0,697.1 460.0,698.7 462.0,700.3 464.0,701.9 466.0,703.6 468.0,705.2 470.0,706.7 472.0,708.1 474.0,709.4 476.0,710.5 478.0,711.5 480.0,712.5 482.0,713.4 484.0,714.4 486.0,715.3 488.0,716.4 490.0,717.5 492.0,718.7 494.0,719.8 496.0,720.9 498.0,721.7 500.0,722.3 502.0,722.8 504.0,723.1 506.0,723.3 508.0,723.3 510.0,723.3 512.0,723.3 514.0,723.3 516.0,723.3 518.0,723.3 520.0,723.3 522.0,723.3 524.0,723.3 526.0,723.3 528.0,723.3 530.0,723.3 532.0,722.9 534.0,721.9 536.0,720.9 538.0,720.3 540.0,720.3 542.0,720.3 544.0,720.3 546.0,720.3 548.0,720.3 550.0,720.3 552.0,720.3 554.0,720.3 556.0,720.4 558.0,720.4 560.0,720.4 562.0,720.5 564.0,720.6 566.0,720.7 568.0,720.8 570.0,721.2 572.0,721.6 574.0,722.1 576.0,722.7 578.0,723.3 580.0,723.9 582.0,724.5 584.0,725.2 586.0,726.0 588.0,726.6 590.0,727.2 592.0,727.6 594.0,728.1 596.0,728.5 598.0,728.8 600.0,729.2 602.0,729.5 604.0,729.9 606.0,730.4 608.0,730.8 610.0,731.1 612.0,731.3 614.0,731.3 616.0,731.3 618.0,731.3 620.0,731.3 622.0,731.3 624.0,731.3 626.0,731.3 628.0,731.3 630.0,731.1 632.0,730.8 634.0,730.5 636.0,730.2 638.0,729.8 640.0,729.6 642.0,729.3 644.0,729.1 646.0,728.8 648.0,728.6 650.0,728.3 652.0,728.1 654.0,727.8 656.0,727.5 658.0,727.2 660.0,726.9 662.0,726.6 664.0,726.4 666.0,726.3 668.0,726.3 670.0,726.3 672.0,726.3 674.0,726.3 676.0,726.3 678.0,726.3 680.0,726.3 682.0,726.3 684.0,726.3 686.0,726.1 688.0,725.9 690.0,725.5 692.0,725.1 694.0,724.7 696.0,724.4 698.0,724.1 700.0,724.0 702.0,723.8 704.0,723.7 706.0,723.7 708.0,723.6 710.0,723.5 712.0,723.5 714.0,723.4 716.0,723.3 718.0,723.1 720.0,722.9 722.0,722.4 724.0,721.6 726.0,720.8 728.0,720.0 730.0,719.5 732.0,719.2 734.0,718.9 736.0,718.6 738.0,718.3 740.0,717.8 742.0,717.0 744.0,716.0 746.0,714.9 748.0,713.7 750.0,712.7 752.0,711.7 754.0,710.7 756.0,709.7 758.0,708.7 760.0,707.7 762.0,706.7 764.0,705.7 766.0,704.8 768.0,703.9 770.0,703.0 772.0,702.1 774.0,701.2 776.0,700.1 778.0,698.9 780.0,697.5 782.0,695.8 784.0,693.7 786.0,691.3 788.0,688.8 790.0,686.3 792.0,683.8 794.0,681.4 796.0,678.9 798.0,676.4 800.0,673.8 802.0,671.2 804.0,668.5 806.0,665.7 808.0,662.9 810.0,660.1 812.0,657.2 814.0,654.5 816.0,651.8 818.0,649.1 820.0,646.4 822.0,643.8 824.0,641.4 826.0,639.0 828.0,636.7 830.0,634.4 832.0,632.1 834.0,629.8 836.0,627.5 838.0,625.1 840.0,622.8 842.0,620.5 844.0,618.0 846.0,615.5 848.0,613.0 850.0,610.7 852.0,608.7 854.0,606.8 856.0,605.1 858.0,603.8 860.0,602.8 862.0,601.9 864.0,601.2 866.0,600.7 868.0,600.2 870.0,599.7 872.0,599.4 874.0,599.1 876.0,599.0 878.0,599.2 880.0,599.8 882.0,600.6 884.0,601.4 886.0,602.3 888.0,603.2 890.0,604.3 892.0,605.4 894.0,606.7 896.0,608.0 898.0,609.4 900.0,611.0 902.0,612.7 904.0,614.5 906.0,616.3 908.0,618.2 910.0,620.1 912.0,622.2 914.0,624.2 916.0,626.3 918.0,628.3 920.0,630.3 922.0,632.4 924.0,634.4 926.0,636.4 928.0,638.5 930.0,640.4 932.0,642.4 934.0,644.2 936.0,646.1 938.0,648.0 940.0,649.8 942.0,651.5 944.0,653.1 946.0,654.7 948.0,656.1 950.0,657.4 952.0,658.7 954.0,659.9 956.0,661.1 958.0,662.3 960.0,663.4 962.0,664.5 964.0,665.6 966.0,666.7 968.0,667.6 970.0,668.2 972.0,668.7 974.0,669.2 976.0,669.6 978.0,669.9 980.0,670.3 982.0,670.6 984.0,670.9 986.0,671.1 988.0,671.4 990.0,671.7 992.0,671.9 994.0,672.1 996.0,672.3 998.0,672.6 1000.0,672.8 1002.0,673.1 1004.0,673.3 1006.0,673.5 1008.0,673.6 1010.0,673.7 1012.0,673.5 1014.0,673.1 1016.0,672.7 1018.0,672.1 1020.0,671.5 1022.0,670.9 1024.0,670.2 1026.0,669.5 1028.0,668.7 1030.0,667.8 1032.0,666.8 1034.0,665.7 1036.0,664.7 1038.0,663.5 1040.0,662.2 1042.0,660.8 1044.0,659.4 1046.0,658.0 1048.0,656.7 1050.0,655.3 1052.0,653.9 1054.0,652.6 1056.0,651.3 1058.0,650.1 1060.0,648.8 1062.0,647.5 1064.0,646.4 1066.0,645.3 1068.0,644.4 1070.0,643.4 1072.0,642.5 1074.0,641.8 1076.0,641.3 1078.0,641.0 1080.0,640.7 1082.0,640.4 1084.0,640.3 1086.0,640.4 1088.0,640.5 1090.0,640.7 1092.0,641.0 1094.0,641.3 1096.0,641.8 1098.0,642.9 1100.0,644.3 1102.0,646.0 1104.0,647.7 1106.0,649.6 1108.0,652.0 1110.0,654.5 1112.0,657.1 1114.0,659.7 1116.0,662.2 1118.0,664.8 1120.0,667.5 1122.0,670.3 1124.0,673.5 1126.0,677.1 1128.0,680.8 1130.0,684.5 1132.0,688.0 1134.0,691.2 1136.0,694.2 1138.0,697.1 1140.0,699.9 1142.0,702.8 1144.0,705.6 1146.0,708.3 1148.0,710.6 1150.0,712.7 1152.0,714.5 1154.0,716.1 1156.0,717.7 1158.0,719.2 1160.0,720.7 1162.0,722.2 1164.0,723.6 1166.0,724.9 1168.0,726.0 1170.0,726.9 1172.0,727.7 1174.0,728.5 1176.0,729.1 1178.0,729.7 1180.0,730.2 1182.0,730.7 1184.0,731.1 1186.0,731.5 1188.0,731.8 1190.0,732.2 1192.0,732.5 1194.0,732.7 1196.0,732.9 1198.0,733.0 1200.0,733.0 1202.0,732.9 1204.0,732.7 1206.0,732.4 1208.0,732.1 1210.0,731.7 1212.0,731.2 1214.0,730.8 1216.0,730.3 1218.0,729.8 1220.0,729.3 1222.0,728.7 1224.0,728.0 1226.0,727.2 1228.0,726.3 1230.0,725.4 1232.0,724.5 1234.0,723.5 1236.0,722.6 1238.0,721.6 1240.0,720.7 1242.0,719.7 1244.0,718.5 1246.0,717.4 1248.0,716.2 1250.0,715.1 1252.0,714.0 1254.0,713.0 1256.0,712.2 1258.0,711.5 1260.0,711.0 1262.0,710.5 1264.0,710.0 1266.0,709.6 1268.0,709.3 1270.0,709.1 1272.0,709.0 1274.0,709.0 1276.0,709.1 1278.0,709.2 1280.0,709.3 1282.0,709.4 1284.0,709.5 1286.0,709.6 1288.0,709.7 1290.0,709.7 1292.0,709.6 1294.0,709.6 1296.0,709.5 1298.0,709.4 1300.0,709.3 1302.0,709.2 1304.0,709.1 1306.0,709.0 1308.0,708.8 1310.0,708.5 1312.0,708.2 1314.0,707.8 1316.0,707.5 1318.0,707.1 1320.0,706.8 1322.0,706.5 1324.0,706.2 1326.0,705.8 1328.0,705.5 1330.0,705.1 1332.0,704.7 1334.0,704.2 1336.0,703.6 1338.0,703.0 1340.0,702.3 1342.0,701.6 1344.0,700.8 1346.0,700.1 1348.0,699.4 1350.0,698.6 1352.0,697.8 1354.0,697.0 1356.0,696.1 1358.0,695.0 1360.0,693.8 1362.0,692.3 1364.0,690.5 1366.0,688.7 1368.0,686.9 1370.0,685.2 1372.0,683.6 1374.0,681.9 1376.0,680.2 1378.0,678.6 1380.0,676.9 1382.0,675.2 1384.0,673.4 1386.0,671.8 1388.0,670.2 1390.0,668.7 1392.0,667.3 1394.0,666.0 1396.0,664.7 1398.0,663.4 1400.0,662.1 1402.0,660.7 1404.0,659.3 1406.0,658.0 1408.0,656.7 1410.0,655.6 1412.0,654.5 1414.0,653.4 1416.0,652.4 1418.0,651.5 1420.0,650.6 1422.0,649.7 1424.0,648.8 1426.0,647.8 1428.0,647.0 1430.0,646.2 1432.0,645.7 1434.0,645.2 1436.0,644.8 1438.0,644.4 1440.0,644.2 1442.0,644.0 1444.0,643.9 1446.0,643.8 1448.0,643.7 1450.0,643.7 1452.0,643.7 1454.0,643.7 1456.0,643.7 1458.0,643.7 1460.0,643.7 1462.0,643.7 1464.0,643.7 1466.0,643.6 1468.0,643.4 1470.0,642.8 1472.0,642.1 1474.0,641.3" fill="none" stroke="#ff0000" stroke-width="1" stroke-dasharray="3,3"/>
</g>
<line x1="0" y1="789.5" x2="1652" y2="789.5" stroke="#c0c0c0" stroke-width="1" stroke-dasharray="3,3"/>
<line x1="0" y1="840.5" x2="1652" y2="840.5" stroke="#c0c0c0" stroke-width="1" stroke-dasharray="3,3"/>
<line x1="0" y1="901.5" x2="1652" y2="901.5" stroke="#c0c0c0" stroke-width="1" stroke-dasharray="3,3"/>
<g clip-path="url(#crsi)">
<polyline points="2.5,825.3 10.5,828.0 18.5,832.0 26.5,838.3 34.5,836.3 42.5,827.0 50.5,829.3 58.5,842.3 66.5,841.3 74.5,850.3 82.5,849.3 90.5,845.3 98.5,841.3 106.5,837.3 114.5,872.0 122.5,866.3 130.5,867.3 138.5,848.0 146.5,846.3 154.5,852.0 162.5,856.3 170.5,851.3 178.5,847.3 186.5,845.3 194.5,842.3 202.5,859.0 210.5,861.7 218.5,853.7 226.5,850.3 234.5,842.3 242.5,845.3 250.5,847.3 258.5,814.0 266.5,812.0 274.5,810.0 282.5,808.0 290.5,812.3 298.5,815.7 306.5,818.7 314.5,828.3 322.5,823.3 330.5,821.3 338.5,833.0 346.5,836.3 354.5,834.3 362.5,835.3 370.5,831.3 378.5,836.3 386.5,843.0 394.5,845.3 402.5,847.3 410.5,848.3 418.5,842.3 426.5,846.3 434.5,860.3 442.5,861.7 450.5,855.7 458.5,860.7 466.5,863.3 474.5,857.7 482.5,844.7 490.5,837.7 498.5,861.7 506.5,836.3 514.5,834.3 522.5,840.3 530.5,847.3 538.5,850.7 546.5,856.3 554.5,856.3 562.5,851.7 570.5,851.7 578.5,859.3 586.5,850.7 594.5,844.3 602.5,845.3 610.5,845.3 618.5,848.3 626.5,854.0 634.5,842.3 642.5,849.3 650.5,851.3 658.5,846.7 666.5,854.3 674.5,853.0 682.5,842.0 690.5,837.7 698.5,850.3 706.5,846.7 714.5,845.3 722.5,844.0 730.5,838.7 738.5,826.0 746.5,824.0 754.5,822.3 762.5,832.3 770.5,829.3 778.5,821.3 786.5,799.3 794.5,802.7 802.5,801.3 810.5,798.3 818.5,799.3 826.5,795.3 834.5,811.0 842.5,814.3 850.5,810.3 858.5,826.3 866.5,825.0 874.5,828.3 882.5,840.0 890.5,836.0 898.5,839.3 906.5,842.3 914.5,839.3 922.5,831.7 930.5,844.0 938.5,841.3 946.5,840.3 954.5,832.3 962.5,824.3 970.5,823.3 978.5,835.7 986.5,840.3 994.5,837.7 1002.5,832.7 1010.5,823.3 1018.5,826.3 1026.5,806.3 1034.5,807.0 1042.5,806.3 1050.5,811.0 1058.5,815.0 1066.5,822.0 1074.5,857.0 1082.5,852.7 1090.5,847.3 1098.5,850.7 1106.5,856.3 1114.5,860.3 1122.5,862.3 1130.5,863.3 1138.5,861.3 1146.5,850.7 1154.5,844.3 1162.5,850.3 1170.5,847.7 1178.5,846.7 1186.5,846.3 1194.5,846.3 1202.5,848.3 1210.5,852.0 1218.5,835.3 1226.5,834.0 1234.5,835.3 1242.5,840.0 1250.5,840.7 1258.5,843.3 1266.5,845.3 1274.5,859.3 1282.5,851.3 1290.5,851.3 1298.5,848.7 1306.5,836.3 1314.5,822.3 1322.5,826.0 1330.5,826.3 1338.5,822.3 1346.5,830.3 1354.5,825.0 1362.5,811.3 1370.5,808.3 1378.5,809.3 1386.5,807.3 1394.5,811.3 1402.5,807.3 1410.5,807.3 1418.5,817.0 1426.5,815.0 1434.5,814.3 1442.5,827.0 1450.5,833.0 1458.5,839.7 1466.5,799.7 1474.5,794.0" fill="none" stroke="#1e90ff" stroke-width="1" />
</g>
<rect x="0" y="26" width="1653" height="1" fill="#000" />
<rect x="1652" y="26" width="1" height="901" fill="#000" />
<rect x="0" y="579" width="1653" height="1" fill="#000" />
<rect x="0" y="581" width="1653" height="1" fill="#000" />
<rect x="0" y="751" width="1653" height="1" fill="#000" />
<rect x="0" y="753" width="1653" height="1" fill="#000" />
<rect x="0" y="926" width="1653" height="1" fill="#000" />
<rect x="1652" y="580" width="1" height="1" fill="#fff" />
<rect x="1652" y="752" width="1" height="1" fill="#fff" />
<rect x="1698" y="24" width="1" height="915" fill="#e6e6e6" />
<rect x="1697" y="24" width="1" height="915" fill="#f6f6f6" />
<rect x="1653" y="49" width="2" height="1" fill="#000" />
<text x="1658.6" y="52.19" font-size="9.7" fill="#000" text-anchor="start" font-weight="normal" textLength="32.5" lengthAdjust="spacingAndGlyphs" >110.800</text>
<rect x="1653" y="82" width="2" height="1" fill="#000" />
<text x="1658.6" y="85.16" font-size="9.7" fill="#000" text-anchor="start" font-weight="normal" textLength="32.5" lengthAdjust="spacingAndGlyphs" >110.640</text>
<rect x="1653" y="115" width="2" height="1" fill="#000" />
<text x="1658.6" y="118.13" font-size="9.7" fill="#000" text-anchor="start" font-weight="normal" textLength="32.5" lengthAdjust="spacingAndGlyphs" >110.480</text>
<rect x="1653" y="148" width="2" height="1" fill="#000" />
<text x="1658.6" y="151.1" font-size="9.7" fill="#000" text-anchor="start" font-weight="normal" textLength="32.5" lengthAdjust="spacingAndGlyphs" >110.315</text>
<rect x="1653" y="181" width="2" height="1" fill="#000" />
<text x="1658.6" y="184.07" font-size="9.7" fill="#000" text-anchor="start" font-weight="normal" textLength="32.5" lengthAdjust="spacingAndGlyphs" >110.155</text>
<rect x="1653" y="214" width="2" height="1" fill="#000" />
<text x="1658.6" y="217.04" font-size="9.7" fill="#000" text-anchor="start" font-weight="normal" textLength="32.5" lengthAdjust="spacingAndGlyphs" >109.995</text>
<rect x="1653" y="247" width="2" height="1" fill="#000" />
<text x="1658.6" y="250.01" font-size="9.7" fill="#000" text-anchor="start" font-weight="normal" textLength="32.5" lengthAdjust="spacingAndGlyphs" >109.835</text>
<rect x="1653" y="280" width="2" height="1" fill="#000" />
<text x="1658.6" y="282.98" font-size="9.7" fill="#000" text-anchor="start" font-weight="normal" textLength="32.5" lengthAdjust="spacingAndGlyphs" >109.670</text>
<rect x="1653" y="313" width="2" height="1" fill="#000" />
<text x="1658.6" y="315.95" font-size="9.7" fill="#000" text-anchor="start" font-weight="normal" textLength="32.5" lengthAdjust="spacingAndGlyphs" >109.510</text>
<rect x="1653" y="346" width="2" height="1" fill="#000" />
<text x="1658.6" y="348.92" font-size="9.7" fill="#000" text-anchor="start" font-weight="normal" textLength="32.5" lengthAdjust="spacingAndGlyphs" >109.350</text>
<rect x="1653" y="378" width="2" height="1" fill="#000" />
<text x="1658.6" y="381.89" font-size="9.7" fill="#000" text-anchor="start" font-weight="normal" textLength="32.5" lengthAdjust="spacingAndGlyphs" >109.190</text>
<rect x="1653" y="411" width="2" height="1" fill="#000" />
<text x="1658.6" y="414.86" font-size="9.7" fill="#000" text-anchor="start" font-weight="normal" textLength="32.5" lengthAdjust="spacingAndGlyphs" >109.030</text>
<rect x="1653" y="444" width="2" height="1" fill="#000" />
<text x="1658.6" y="447.83" font-size="9.7" fill="#000" text-anchor="start" font-weight="normal" textLength="32.5" lengthAdjust="spacingAndGlyphs" >108.865</text>
<rect x="1653" y="477" width="2" height="1" fill="#000" />
<text x="1658.6" y="480.8" font-size="9.7" fill="#000" text-anchor="start" font-weight="normal" textLength="32.5" lengthAdjust="spacingAndGlyphs" >108.705</text>
<rect x="1653" y="510" width="2" height="1" fill="#000" />
<text x="1658.6" y="513.77" font-size="9.7" fill="#000" text-anchor="start" font-weight="normal" textLength="32.5" lengthAdjust="spacingAndGlyphs" >108.545</text>
<rect x="1653" y="543" width="2" height="1" fill="#000" />
<text x="1658.6" y="546.74" font-size="9.7" fill="#000" text-anchor="start" font-weight="normal" textLength="32.5" lengthAdjust="spacingAndGlyphs" >108.385</text>
<rect x="1653" y="576" width="2" height="1" fill="#000" />
<text x="1658.6" y="579.71" font-size="9.7" fill="#000" text-anchor="start" font-weight="normal" textLength="32.5" lengthAdjust="spacingAndGlyphs" >108.220</text>
<rect x="1647" y="29" width="5" height="5" fill="#ff0000" />
<rect x="1648" y="30" width="3" height="3" fill="#fff" />
<rect x="1654" y="25.5" width="41" height="10.5" fill="#ff0000" shape-rendering="geometricPrecision"/>
<text x="1658.5" y="34.3" font-size="9.7" fill="#fff" text-anchor="start" font-weight="normal" textLength="32.5" lengthAdjust="spacingAndGlyphs" >110.881</text>
<rect x="1647" y="46" width="5" height="5" fill="#ff0000" />
<rect x="1648" y="47" width="3" height="3" fill="#fff" />
<rect x="1654" y="42.5" width="41" height="10.5" fill="#ff0000" shape-rendering="geometricPrecision"/>
<text x="1658.5" y="51.3" font-size="9.7" fill="#fff" text-anchor="start" font-weight="normal" textLength="32.5" lengthAdjust="spacingAndGlyphs" >110.798</text>
<rect x="1654" y="63" width="41" height="10.5" fill="#000000" shape-rendering="geometricPrecision"/>
<text x="1658.5" y="71.8" font-size="9.7" fill="#fff" text-anchor="start" font-weight="normal" textLength="32.5" lengthAdjust="spacingAndGlyphs" >110.702</text>
<rect x="1647" y="85" width="5" height="5" fill="#32cd32" />
<rect x="1648" y="86" width="3" height="3" fill="#fff" />
<rect x="1654" y="81.5" width="41" height="10.5" fill="#32cd32" shape-rendering="geometricPrecision"/>
<text x="1658.5" y="90.3" font-size="9.7" fill="#fff" text-anchor="start" font-weight="normal" textLength="32.5" lengthAdjust="spacingAndGlyphs" >110.612</text>
<rect x="1647" y="101" width="5" height="5" fill="#0000ff" />
<rect x="1648" y="102" width="3" height="3" fill="#fff" />
<rect x="1654" y="97.5" width="41" height="10.5" fill="#0000ff" shape-rendering="geometricPrecision"/>
<text x="1658.5" y="106.3" font-size="9.7" fill="#fff" text-anchor="start" font-weight="normal" textLength="32.5" lengthAdjust="spacingAndGlyphs" >110.533</text>
<rect x="1647" y="119" width="5" height="5" fill="#0000ff" />
<rect x="1648" y="120" width="3" height="3" fill="#fff" />
<rect x="1654" y="115.5" width="41" height="10.5" fill="#0000ff" shape-rendering="geometricPrecision"/>
<text x="1658.5" y="124.3" font-size="9.7" fill="#fff" text-anchor="start" font-weight="normal" textLength="32.5" lengthAdjust="spacingAndGlyphs" >110.444</text>
<text x="1656.3" y="592.2" font-size="9.7" fill="#000" text-anchor="start" font-weight="normal" textLength="27.8" lengthAdjust="spacingAndGlyphs" >0.2908</text>
<text x="1656.3" y="702.2" font-size="9.7" fill="#000" text-anchor="start" font-weight="normal" textLength="18.4" lengthAdjust="spacingAndGlyphs" >0.00</text>
<text x="1656.3" y="748.8" font-size="9.7" fill="#000" text-anchor="start" font-weight="normal" textLength="31" lengthAdjust="spacingAndGlyphs" >-0.1326</text>
<rect x="1653" y="698" width="2" height="1" fill="#000" />
<rect x="1653" y="583" width="2" height="1" fill="#000" />
<text x="1656.2" y="763.8" font-size="9.7" fill="#000" text-anchor="start" font-weight="normal" textLength="15.3143" lengthAdjust="spacingAndGlyphs" >100</text>
<text x="1656.2" y="793.2" font-size="9.7" fill="#000" text-anchor="start" font-weight="normal" textLength="10.2096" lengthAdjust="spacingAndGlyphs" >80</text>
<text x="1656.2" y="844.2" font-size="9.7" fill="#000" text-anchor="start" font-weight="normal" textLength="10.2096" lengthAdjust="spacingAndGlyphs" >50</text>
<text x="1656.2" y="905.5" font-size="9.7" fill="#000" text-anchor="start" font-weight="normal" textLength="10.2096" lengthAdjust="spacingAndGlyphs" >15</text>
<text x="1656.2" y="924.2" font-size="9.7" fill="#000" text-anchor="start" font-weight="normal" textLength="5.10478" lengthAdjust="spacingAndGlyphs" >0</text>
<rect x="1653" y="789" width="2" height="1" fill="#000" />
<rect x="1653" y="840" width="2" height="1" fill="#000" />
<rect x="1653" y="901" width="2" height="1" fill="#000" />
<rect x="-6" y="927" width="1" height="3" fill="#000" />
<text x="-6.8" y="939.9" font-size="9.7" fill="#000" text-anchor="start" font-weight="normal" textLength="49.2352" lengthAdjust="spacingAndGlyphs" >5 May 2021</text>
<rect x="58" y="927" width="1" height="3" fill="#000" />
<text x="57.2" y="939.9" font-size="9.7" fill="#000" text-anchor="start" font-weight="normal" textLength="51.8527" lengthAdjust="spacingAndGlyphs" >6 May 08:00</text>
<rect x="122" y="927" width="1" height="3" fill="#000" />
<text x="121.2" y="939.9" font-size="9.7" fill="#000" text-anchor="start" font-weight="normal" textLength="51.8527" lengthAdjust="spacingAndGlyphs" >7 May 16:00</text>
<rect x="186" y="927" width="1" height="3" fill="#000" />
<text x="185.2" y="939.9" font-size="9.7" fill="#000" text-anchor="start" font-weight="normal" textLength="56.394" lengthAdjust="spacingAndGlyphs" >11 May 00:00</text>
<rect x="250" y="927" width="1" height="3" fill="#000" />
<text x="249.2" y="939.9" font-size="9.7" fill="#000" text-anchor="start" font-weight="normal" textLength="57.0926" lengthAdjust="spacingAndGlyphs" >12 May 08:00</text>
<rect x="314" y="927" width="1" height="3" fill="#000" />
<text x="313.2" y="939.9" font-size="9.7" fill="#000" text-anchor="start" font-weight="normal" textLength="57.0926" lengthAdjust="spacingAndGlyphs" >13 May 16:00</text>
<rect x="378" y="927" width="1" height="3" fill="#000" />
<text x="377.2" y="939.9" font-size="9.7" fill="#000" text-anchor="start" font-weight="normal" textLength="57.0926" lengthAdjust="spacingAndGlyphs" >17 May 00:00</text>
<rect x="442" y="927" width="1" height="3" fill="#000" />
<text x="441.2" y="939.9" font-size="9.7" fill="#000" text-anchor="start" font-weight="normal" textLength="57.0926" lengthAdjust="spacingAndGlyphs" >18 May 08:00</text>
<rect x="506" y="927" width="1" height="3" fill="#000" />
<text x="505.2" y="939.9" font-size="9.7" fill="#000" text-anchor="start" font-weight="normal" textLength="57.0926" lengthAdjust="spacingAndGlyphs" >19 May 16:00</text>
<rect x="570" y="927" width="1" height="3" fill="#000" />
<text x="569.2" y="939.9" font-size="9.7" fill="#000" text-anchor="start" font-weight="normal" textLength="57.0926" lengthAdjust="spacingAndGlyphs" >21 May 00:00</text>
<rect x="634" y="927" width="1" height="3" fill="#000" />
<text x="633.2" y="939.9" font-size="9.7" fill="#000" text-anchor="start" font-weight="normal" textLength="57.0926" lengthAdjust="spacingAndGlyphs" >24 May 08:00</text>
<rect x="698" y="927" width="1" height="3" fill="#000" />
<text x="697.2" y="939.9" font-size="9.7" fill="#000" text-anchor="start" font-weight="normal" textLength="57.0926" lengthAdjust="spacingAndGlyphs" >25 May 16:00</text>
<rect x="762" y="927" width="1" height="3" fill="#000" />
<text x="761.2" y="939.9" font-size="9.7" fill="#000" text-anchor="start" font-weight="normal" textLength="57.0926" lengthAdjust="spacingAndGlyphs" >27 May 00:00</text>
<rect x="826" y="927" width="1" height="3" fill="#000" />
<text x="825.2" y="939.9" font-size="9.7" fill="#000" text-anchor="start" font-weight="normal" textLength="57.0926" lengthAdjust="spacingAndGlyphs" >28 May 08:00</text>
<rect x="890" y="927" width="1" height="3" fill="#000" />
<text x="889.2" y="939.9" font-size="9.7" fill="#000" text-anchor="start" font-weight="normal" textLength="57.0926" lengthAdjust="spacingAndGlyphs" >31 May 16:00</text>
<rect x="954" y="927" width="1" height="3" fill="#000" />
<text x="953.2" y="939.9" font-size="9.7" fill="#000" text-anchor="start" font-weight="normal" textLength="49.2434" lengthAdjust="spacingAndGlyphs" >2 Jun 00:00</text>
<rect x="1018" y="927" width="1" height="3" fill="#000" />
<text x="1017.2" y="939.9" font-size="9.7" fill="#000" text-anchor="start" font-weight="normal" textLength="49.2434" lengthAdjust="spacingAndGlyphs" >3 Jun 08:00</text>
<rect x="1082" y="927" width="1" height="3" fill="#000" />
<text x="1081.2" y="939.9" font-size="9.7" fill="#000" text-anchor="start" font-weight="normal" textLength="49.2434" lengthAdjust="spacingAndGlyphs" >4 Jun 16:00</text>
<rect x="1146" y="927" width="1" height="3" fill="#000" />
<text x="1145.2" y="939.9" font-size="9.7" fill="#000" text-anchor="start" font-weight="normal" textLength="49.2434" lengthAdjust="spacingAndGlyphs" >8 Jun 00:00</text>
<rect x="1210" y="927" width="1" height="3" fill="#000" />
<text x="1209.2" y="939.9" font-size="9.7" fill="#000" text-anchor="start" font-weight="normal" textLength="49.2434" lengthAdjust="spacingAndGlyphs" >9 Jun 08:00</text>
<rect x="1274" y="927" width="1" height="3" fill="#000" />
<text x="1273.2" y="939.9" font-size="9.7" fill="#000" text-anchor="start" font-weight="normal" textLength="54.4833" lengthAdjust="spacingAndGlyphs" >10 Jun 16:00</text>
<rect x="1338" y="927" width="1" height="3" fill="#000" />
<text x="1337.2" y="939.9" font-size="9.7" fill="#000" text-anchor="start" font-weight="normal" textLength="54.4833" lengthAdjust="spacingAndGlyphs" >14 Jun 00:00</text>
<rect x="1402" y="927" width="1" height="3" fill="#000" />
<text x="1401.2" y="939.9" font-size="9.7" fill="#000" text-anchor="start" font-weight="normal" textLength="54.4833" lengthAdjust="spacingAndGlyphs" >15 Jun 08:00</text>
<rect x="1466" y="927" width="1" height="3" fill="#000" />
<text x="1465.2" y="939.9" font-size="9.7" fill="#000" text-anchor="start" font-weight="normal" textLength="54.4833" lengthAdjust="spacingAndGlyphs" >16 Jun 16:00</text>
<text x="-1" y="594.5" font-size="9.7" fill="#000" text-anchor="start" font-weight="normal" textLength="127" lengthAdjust="spacingAndGlyphs" >MACD(12,26,9) 0.1869 0.1421</text>
<text x="-3" y="766" font-size="9.7" fill="#000" text-anchor="start" font-weight="normal" textLength="69" lengthAdjust="spacingAndGlyphs" >RSI(14) 75.4660</text>
<rect x="763.5" y="163.5" width="61.5" height="18.3" fill="#fff" stroke="#ff0000" stroke-width="1" shape-rendering="geometricPrecision"/>
<text x="794.25" y="178.67" font-size="17" fill="#ff0000" text-anchor="middle" textLength="58.6" lengthAdjust="spacingAndGlyphs" shape-rendering="auto">110.192</text>
<rect x="825" y="172" width="10" height="1" fill="#ff0000" />
<rect x="971.5" y="134.5" width="61.7" height="18.4" fill="#fff" stroke="#ff0000" stroke-width="1" shape-rendering="geometricPrecision"/>
<text x="1002.35" y="149.72" font-size="17" fill="#ff0000" text-anchor="middle" textLength="58.6" lengthAdjust="spacingAndGlyphs" shape-rendering="auto">110.334</text>
<rect x="1033" y="143" width="10" height="1" fill="#ff0000" />
<rect x="1051.5" y="370.8" width="61.5" height="18" fill="#fff" stroke="#ff0000" stroke-width="1" shape-rendering="geometricPrecision"/>
<text x="1082.25" y="385.82" font-size="17" fill="#ff0000" text-anchor="middle" textLength="58.6" lengthAdjust="spacingAndGlyphs" shape-rendering="auto">109.182</text>
<rect x="1113" y="379" width="10" height="1" fill="#ff0000" />
<rect x="1195.9" y="246.5" width="61.2" height="18.6" fill="#fff" stroke="#ff0000" stroke-width="1" shape-rendering="geometricPrecision"/>
<text x="1226.5" y="261.82" font-size="17" fill="#ff0000" text-anchor="middle" textLength="58.6" lengthAdjust="spacingAndGlyphs" shape-rendering="auto">109.789</text>
<rect x="1257" y="255" width="10" height="1" fill="#ff0000" />
<rect x="1325.3" y="75.3" width="73.6" height="24.4" fill="#fff" stroke="#ff0000" stroke-width="1" shape-rendering="geometricPrecision"/>
<text x="1362.1" y="95.752" font-size="23.2" fill="#ff0000" text-anchor="middle" textLength="71.2" lengthAdjust="spacingAndGlyphs" shape-rendering="auto">110.612</text>
<rect x="1315" y="87" width="8" height="1" fill="#ff0000" />
<rect x="1322" y="86" width="3" height="3" fill="#ff0000" />
<rect x="1323" y="87" width="1" height="1" fill="#fff" />
<rect x="1531.5" y="59.5" width="110" height="24" fill="none" stroke="#303030" stroke-width="1"/>
<text x="1534" y="78.5" font-size="21" fill="#00ff00" text-anchor="start" textLength="105" lengthAdjust="spacingAndGlyphs" shape-rendering="auto" style="font-family:'Liberation Serif','Noto Serif CJK SC',serif">多空转折点</text>
<rect x="1584" y="57" width="3" height="3" fill="#00ff00" />
<rect x="1585" y="58" width="1" height="1" fill="#fff" />
<line x1="1266.0" y1="349.3" x2="1392.8" y2="187.6" stroke="#ff0000" stroke-width="3.3" shape-rendering="geometricPrecision"/>
<polygon points="1397.1,182.2 1394.1,194.5 1385.9,188.0" fill="#ff0000" shape-rendering="geometricPrecision"/>
<line x1="1397.1" y1="182.2" x2="1450.9" y2="230.4" stroke="#ff0000" stroke-width="3.3" shape-rendering="geometricPrecision"/>
<polygon points="1456.0,235.0 1444.0,231.2 1450.9,223.5" fill="#ff0000" shape-rendering="geometricPrecision"/>
<line x1="1456.0" y1="235.0" x2="1493.6" y2="54.1" stroke="#ff0000" stroke-width="3.3" shape-rendering="geometricPrecision"/>
<polygon points="1495.0,47.3 1497.8,59.6 1487.6,57.5" fill="#ff0000" shape-rendering="geometricPrecision"/>
<line x1="1200.3" y1="733.0" x2="1471.5" y2="636.0" stroke="#ff0000" stroke-width="3.3" shape-rendering="geometricPrecision"/>
<polygon points="1478.0,633.7 1468.9,642.5 1465.4,632.7" fill="#ff0000" shape-rendering="geometricPrecision"/>
<line x1="1283.7" y1="860.3" x2="1382.9" y2="796.7" stroke="#ff0000" stroke-width="3.3" shape-rendering="geometricPrecision"/>
<polygon points="1388.7,793.0 1381.8,803.6 1376.2,794.8" fill="#ff0000" shape-rendering="geometricPrecision"/>
<line x1="1388.7" y1="793.0" x2="1444.6" y2="830.2" stroke="#ff0000" stroke-width="3.3" shape-rendering="geometricPrecision"/>
<polygon points="1450.3,834.0 1437.8,832.0 1443.6,823.3" fill="#ff0000" shape-rendering="geometricPrecision"/>
<line x1="1450.3" y1="834.0" x2="1477.8" y2="786.7" stroke="#ff0000" stroke-width="3.3" shape-rendering="geometricPrecision"/>
<polygon points="1481.3,780.7 1480.0,793.3 1471.0,788.0" fill="#ff0000" shape-rendering="geometricPrecision"/>
<rect x="1438" y="81" width="86" height="11" fill="#00ff00" />
<polygon points="1479,27 1492,27 1485.5,33" fill="#c0c0c0" shape-rendering="geometricPrecision"/>
<polygon points="0,32 0,37 5,37" fill="#000"/>
<text x="9" y="38.2" font-size="9.7" fill="#000" text-anchor="start" font-weight="normal" textLength="201" lengthAdjust="spacingAndGlyphs" xml:space="preserve" style="white-space:pre">USDJPY-,H4  110.632 110.715 110.617 110.702</text>
<rect x="0" y="44" width="218" height="61" fill="#fff" />
<rect x="0" y="46" width="49" height="24" fill="url(#gb)" />
<rect x="0" y="70" width="106" height="33" fill="#1616c8"/>
<rect x="164" y="46" width="52" height="24" fill="url(#gb)" />
<rect x="108" y="70" width="108" height="33" fill="#1616c8"/>
<linearGradient id="gp" gradientUnits="userSpaceOnUse" x1="0" y1="46" x2="0" y2="103"><stop offset="0" stop-color="#5c5cf6"/><stop offset="0.4" stop-color="#3232e4"/><stop offset="0.45" stop-color="#2020d8"/><stop offset="1" stop-color="#00009c"/></linearGradient>
<rect x="0" y="46" width="49" height="24" fill="url(#gp)" />
<rect x="0" y="70" width="106" height="33" fill="url(#gp)" />
<rect x="164" y="46" width="52" height="24" fill="url(#gp)" />
<rect x="108" y="70" width="108" height="33" fill="url(#gp)" />
<rect x="1" y="69" width="44" height="1" fill="#8a8af0" />
<rect x="168" y="69" width="44" height="1" fill="#8a8af0" />
<rect x="50.5" y="46.5" width="112" height="22" fill="#fff" stroke="#c8c8c8"/>
<rect x="52.5" y="47.5" width="19" height="19" fill="url(#gbtn)" stroke="#b8b8b8"/>
<rect x="141.5" y="47.5" width="20" height="19" fill="url(#gbtn)" stroke="#b8b8b8"/>
<polygon points="59,55 65,55 62,58.5" fill="#4a5aa8" shape-rendering="geometricPrecision"/>
<polygon points="147,58.5 153,58.5 150,55" fill="#4a5aa8" shape-rendering="geometricPrecision"/>
<text x="136.5" y="60.8" font-size="12" fill="#000" text-anchor="end" font-weight="normal" >1.00</text>
<text x="9.5" y="61.7" font-size="12" fill="#e8e8ff" text-anchor="start" font-weight="normal" textLength="25.5" lengthAdjust="spacingAndGlyphs" >SELL</text>
<text x="177.5" y="61.7" font-size="12" fill="#e8e8ff" text-anchor="start" font-weight="normal" textLength="23" lengthAdjust="spacingAndGlyphs" >BUY</text>
<text x="45.6" y="97.8" font-size="34" fill="#fff" text-anchor="start" font-weight="normal" textLength="34.3" lengthAdjust="spacingAndGlyphs" >70</text>
<text x="20.5" y="97.8" font-size="11.5" fill="#fff" text-anchor="start" font-weight="bold" textLength="20" lengthAdjust="spacingAndGlyphs" >110</text>
<text x="85" y="82" font-size="11" fill="#fff" text-anchor="start" font-weight="bold" >2</text>
<text x="156.8" y="97.8" font-size="34" fill="#fff" text-anchor="start" font-weight="normal" textLength="33" lengthAdjust="spacingAndGlyphs" >72</text>
<text x="131" y="97.8" font-size="11.5" fill="#fff" text-anchor="start" font-weight="bold" textLength="20" lengthAdjust="spacingAndGlyphs" >110</text>
<text x="195.5" y="82" font-size="11" fill="#fff" text-anchor="start" font-weight="bold" >1</text>
<rect x="0" y="0" width="1699" height="22" fill="#f0f0f0" />
<rect x="0" y="22" width="1699" height="1" fill="#a0a0a0" />
<rect x="0" y="23" width="1699" height="1" fill="#6e6e6e" />
<g shape-rendering="geometricPrecision">
<defs><linearGradient id="gold" x1="0" y1="0" x2="1" y2="1"><stop offset="0" stop-color="#f6d860"/><stop offset="0.5" stop-color="#e8b428"/><stop offset="1" stop-color="#b87808"/></linearGradient><linearGradient id="grn" x1="0" y1="0" x2="0" y2="1"><stop offset="0" stop-color="#5ee05e"/><stop offset="1" stop-color="#0a9a0a"/></linearGradient><linearGradient id="blu" x1="0" y1="0" x2="0" y2="1"><stop offset="0" stop-color="#58b0ff"/><stop offset="1" stop-color="#1060d8"/></linearGradient><linearGradient id="cld" x1="0" y1="0" x2="0" y2="1"><stop offset="0" stop-color="#ffffff"/><stop offset="1" stop-color="#b8cdee"/></linearGradient><linearGradient id="blu2" x1="0" y1="0" x2="0" y2="1"><stop offset="0" stop-color="#3a8ae8"/><stop offset="1" stop-color="#0a48b0"/></linearGradient><radialGradient id="redb" cx="0.4" cy="0.3" r="0.8"><stop offset="0" stop-color="#f05030"/><stop offset="1" stop-color="#c01808"/></radialGradient><radialGradient id="lens" cx="0.4" cy="0.35" r="0.7"><stop offset="0" stop-color="#f4faff"/><stop offset="1" stop-color="#b8d8f8"/></radialGradient></defs>
<rect x="288" y="1" width="24" height="20" fill="#f7f7f7" />
<rect x="439" y="1" width="24" height="20" fill="#f7f7f7" />
<rect x="468" y="1" width="24" height="20" fill="#f7f7f7" />
<rect x="628" y="1" width="24" height="20" fill="#f7f7f7" />
<rect x="1074" y="1" width="24" height="20" fill="#f7f7f7" />
<rect x="13" y="0" width="1" height="21" fill="#a8a8a8" />
<rect x="249" y="0" width="1" height="21" fill="#a8a8a8" />
<rect x="287" y="0" width="1" height="21" fill="#a8a8a8" />
<rect x="344" y="0" width="1" height="21" fill="#a8a8a8" />
<rect x="434" y="0" width="1" height="21" fill="#a8a8a8" />
<rect x="439" y="0" width="1" height="21" fill="#a8a8a8" />
<rect x="467" y="0" width="1" height="21" fill="#a8a8a8" />
<rect x="496" y="0" width="1" height="21" fill="#a8a8a8" />
<rect x="617" y="0" width="1" height="21" fill="#a8a8a8" />
<rect x="627" y="0" width="1" height="21" fill="#a8a8a8" />
<rect x="684" y="0" width="1" height="21" fill="#a8a8a8" />
<rect x="923" y="0" width="1" height="21" fill="#a8a8a8" />
<rect x="1073" y="0" width="1" height="21" fill="#a8a8a8" />
<rect x="1184" y="0" width="1" height="21" fill="#a8a8a8" />
<rect x="253" y="1" width="3" height="1" fill="#bdbdbd" />
<rect x="253" y="3" width="3" height="1" fill="#bdbdbd" />
<rect x="253" y="5" width="3" height="1" fill="#bdbdbd" />
<rect x="253" y="7" width="3" height="1" fill="#bdbdbd" />
<rect x="253" y="9" width="3" height="1" fill="#bdbdbd" />
<rect x="253" y="11" width="3" height="1" fill="#bdbdbd" />
<rect x="253" y="13" width="3" height="1" fill="#bdbdbd" />
<rect x="253" y="15" width="3" height="1" fill="#bdbdbd" />
<rect x="253" y="17" width="3" height="1" fill="#bdbdbd" />
<rect x="253" y="19" width="3" height="1" fill="#bdbdbd" />
<rect x="621" y="1" width="3" height="1" fill="#bdbdbd" />
<rect x="621" y="3" width="3" height="1" fill="#bdbdbd" />
<rect x="621" y="5" width="3" height="1" fill="#bdbdbd" />
<rect x="621" y="7" width="3" height="1" fill="#bdbdbd" />
<rect x="621" y="9" width="3" height="1" fill="#bdbdbd" />
<rect x="621" y="11" width="3" height="1" fill="#bdbdbd" />
<rect x="621" y="13" width="3" height="1" fill="#bdbdbd" />
<rect x="621" y="15" width="3" height="1" fill="#bdbdbd" />
<rect x="621" y="17" width="3" height="1" fill="#bdbdbd" />
<rect x="621" y="19" width="3" height="1" fill="#bdbdbd" />
<rect x="927" y="1" width="3" height="1" fill="#bdbdbd" />
<rect x="927" y="3" width="3" height="1" fill="#bdbdbd" />
<rect x="927" y="5" width="3" height="1" fill="#bdbdbd" />
<rect x="927" y="7" width="3" height="1" fill="#bdbdbd" />
<rect x="927" y="9" width="3" height="1" fill="#bdbdbd" />
<rect x="927" y="11" width="3" height="1" fill="#bdbdbd" />
<rect x="927" y="13" width="3" height="1" fill="#bdbdbd" />
<rect x="927" y="15" width="3" height="1" fill="#bdbdbd" />
<rect x="927" y="17" width="3" height="1" fill="#bdbdbd" />
<rect x="927" y="19" width="3" height="1" fill="#bdbdbd" />
<circle cx="-2" cy="10" r="4" fill="#d8eaff" stroke="#6a9ad8" stroke-width="1.5"/>
<line x1="0.5" y1="14.5" x2="5" y2="19" stroke="#d8a830" stroke-width="2.6" stroke-linecap="round"/>
<path d="M4.5 3.8L6.2 5.5L4.5 7.2L2.8 5.5Z" fill="#fff" stroke="#000" stroke-width="0.8"/>
<path d="M23.5 2.5H31.5L34.5 5.5V15.5H23.5Z" fill="#fff" stroke="#8a8a8a" stroke-width="1"/>
<path d="M31.5 2.5V5.5H34.5" fill="#e8e8e8" stroke="#8a8a8a" stroke-width="0.8"/>
<rect x="25.5" y="5" width="4" height="1.4" fill="#9a9a9a" />
<rect x="25.5" y="8" width="6" height="1" fill="#b0b0b0" />
<rect x="25.5" y="10.5" width="5" height="1" fill="#b0b0b0" />
<path d="M31.4 8.3H35V12.1H38.9V15.7H35V19.5H31.4V15.7H27.5V12.1H31.4Z" fill="url(#grn)" stroke="#0a8a0a" stroke-width="0.7"/>
<path d="M96.4 3L106.2 11.6L98.6 17.8L90 11.2Z" fill="url(#gold)" stroke="#a86c08" stroke-width="0.8"/>
<path d="M90 11.2L98.6 17.8L106.2 11.6L106.2 13.2L98.6 19L90 12.8Z" fill="#c89018" stroke="#a86c08" stroke-width="0.5"/>
<path d="M96.4 4.6L103.6 11.2L98.4 15.4L92.2 10.8Z" fill="#fae47a" opacity="0.55"/>
<path d="M120.6 3.6L126 2.2L130.8 3.4V11H120.6Z" fill="url(#blu)" stroke="#1668d0" stroke-width="0.6"/>
<rect x="124.8" y="5.2" width="4.6" height="1.2" fill="#d8ecff" />
<rect x="124.8" y="7.6" width="4.6" height="1.2" fill="#d8ecff" />
<rect x="122" y="4.2" width="1.6" height="6.5" fill="#b8dcff" />
<path d="M121.2 17.6C118.2 17.6 117.4 14.2 120 13.2C120 10.8 123.2 10 124.6 11.8C126.4 9.6 130.4 10.6 130.4 13C133.6 12.6 135 16.6 132.2 17.6Z" fill="url(#cld)" stroke="#6f94d4" stroke-width="0.9"/>
<circle cx="154" cy="10" r="7.4" fill="none" stroke="#7a9ae0" stroke-width="1.3" opacity="0.85"/>
<circle cx="154" cy="10" r="4.8" fill="none" stroke="#5a82d8" stroke-width="1.3"/>
<path d="M154 2.6A7.4 7.4 0 0 1 154 17.4" fill="none" stroke="#52b052" stroke-width="1.5"/>
<path d="M154 5.2A4.8 4.8 0 0 1 154 14.8" fill="none" stroke="#3aa03a" stroke-width="1.4"/>
<path d="M154 10L154.4 17.6" stroke="#1e9a1e" stroke-width="1.8"/>
<circle cx="154" cy="9.8" r="1.5" fill="#2050c0"/>
<path d="M174.4 9L187.6 8.6L185 13L181 17.6L178 16.4Z" fill="#f4d23c" stroke="#c89a18" stroke-width="0.7"/>
<ellipse cx="181" cy="7.2" rx="7.9" ry="2.3" fill="#4a9ae0" stroke="#2878c8" stroke-width="0.6"/>
<path d="M176.8 6.8C176.8 3.4 178.6 2.4 181 2.4C183.4 2.4 185.2 3.4 185.2 6.8C183.6 7.8 178.4 7.8 176.8 6.8Z" fill="#6cb8f0" stroke="#2878c8" stroke-width="0.6"/>
<ellipse cx="180.6" cy="4" rx="2.6" ry="1.1" fill="#a8dcff" opacity="0.8"/>
<circle cx="185.4" cy="13.8" r="4.1" fill="url(#redb)" stroke="#b01808" stroke-width="0.5"/>
<rect x="183.9" y="12.3" width="3" height="3" fill="#fff" />
<text x="42" y="14.3" font-size="12" fill="#000" text-anchor="start" textLength="35.5" lengthAdjust="spacingAndGlyphs" style="font-family:'Liberation Sans','Noto Sans CJK SC',sans-serif">新订单</text>
<text x="195.5" y="14.3" font-size="12" fill="#000" text-anchor="start" textLength="45" lengthAdjust="spacingAndGlyphs" style="font-family:'Liberation Sans','Noto Sans CJK SC',sans-serif">自动交易</text>
<path d="M267.5 4V17.5M265 15.5H279" stroke="#4a4a4a" stroke-width="1.35" fill="none"/>
<path d="M266.2 5.6L267.5 3.6L268.8 5.6M277.4 14.2L279.2 15.5L277.4 16.8" stroke="#4a4a4a" stroke-width="1" fill="none"/>
<path d="M274.1 5.6V13.3M274.1 6.3H276.5M274.1 12.5H271.5" stroke="#0f8a0f" stroke-width="1.5" fill="none"/>
<path d="M295.8 4V17.5M293.3 15.5H307.3" stroke="#4a4a4a" stroke-width="1.35" fill="none"/>
<path d="M294.5 5.6L295.8 3.6L297.1 5.6M305.7 14.2L307.5 15.5L305.7 16.8" stroke="#4a4a4a" stroke-width="1" fill="none"/>
<path d="M301.5 2V13.8" stroke="#0f8a0f" stroke-width="1.3"/>
<rect x="299.2" y="4.6" width="4.6" height="7" fill="#2cd82c" stroke="#0f8a0f" stroke-width="0.9"/>
<path d="M323.8 4V17.5M321.3 15.5H335.3" stroke="#4a4a4a" stroke-width="1.35" fill="none"/>
<path d="M322.5 5.6L323.8 3.6L325.1 5.6M333.7 14.2L335.5 15.5L333.7 16.8" stroke="#4a4a4a" stroke-width="1" fill="none"/>
<path d="M322 12.9C324 11 326 7.2 328.2 7.2C330.2 7.2 331.6 9.8 333.6 11.2" stroke="#1a9a1a" stroke-width="1.3" fill="none"/>
<line x1="363.2" y1="12.2" x2="368.4" y2="16.8" stroke="#d0a028" stroke-width="2.8" stroke-linecap="round"/>
<line x1="363.59999999999997" y1="12" x2="368.2" y2="16" stroke="#f0d060" stroke-width="1" stroke-linecap="round"/>
<circle cx="359.2" cy="8.2" r="5.3" fill="url(#lens)" stroke="#4a8ade" stroke-width="1.5"/>
<path d="M356.2 8.2H362.2" stroke="#3a7ad0" stroke-width="1.7"/>
<path d="M359.2 5.2V11.2" stroke="#3a7ad0" stroke-width="1.7"/>
<line x1="391.2" y1="12.2" x2="396.4" y2="16.8" stroke="#d0a028" stroke-width="2.8" stroke-linecap="round"/>
<line x1="391.59999999999997" y1="12" x2="396.2" y2="16" stroke="#f0d060" stroke-width="1" stroke-linecap="round"/>
<circle cx="387.2" cy="8.2" r="5.3" fill="url(#lens)" stroke="#4a8ade" stroke-width="1.5"/>
<path d="M384.2 8.2H390.2" stroke="#3a7ad0" stroke-width="1.7"/>
<rect x="409.3" y="2.1" width="7.8" height="7.7" fill="#46a01e" />
<rect x="410.1" y="2.7" width="6" height="1.4" fill="#7cc850" />
<rect x="410.7" y="5.5" width="4.8" height="2.6" fill="#f0f6ff" />
<rect x="417.3" y="2.1" width="7.8" height="7.7" fill="#2054d0" />
<rect x="418.1" y="2.7" width="6" height="1.4" fill="#5088f0" />
<rect x="418.7" y="5.5" width="4.8" height="2.6" fill="#f0f6ff" />
<rect x="409.3" y="10.1" width="7.8" height="7.7" fill="#2054d0" />
<rect x="410.1" y="10.7" width="6" height="1.4" fill="#5088f0" />
<rect x="410.7" y="13.5" width="4.8" height="2.6" fill="#f0f6ff" />
<rect x="417.3" y="10.1" width="7.8" height="7.7" fill="#46a01e" />
<rect x="418.1" y="10.7" width="6" height="1.4" fill="#7cc850" />
<rect x="418.7" y="13.5" width="4.8" height="2.6" fill="#f0f6ff" />
<path d="M447.5 4V17.5M445 15.5H459" stroke="#4a4a4a" stroke-width="1.35" fill="none"/>
<path d="M446.2 5.6L447.5 3.6L448.8 5.6M457.4 14.2L459.2 15.5L457.4 16.8" stroke="#4a4a4a" stroke-width="1" fill="none"/>
<path d="M452.6 6.3L456 9.6L452.6 12.9Z" fill="#c8f0c8" stroke="#1a9a1a" stroke-width="1.4"/>
<path d="M475.8 4V17.5M473.3 15.5H487.3" stroke="#4a4a4a" stroke-width="1.35" fill="none"/>
<path d="M474.5 5.6L475.8 3.6L477.1 5.6M485.7 14.2L487.5 15.5L485.7 16.8" stroke="#4a4a4a" stroke-width="1" fill="none"/>
<path d="M481.4 4V13.8" stroke="#1e66c8" stroke-width="1.3"/>
<path d="M487 9.6H482.8M484.8 7.6L482.6 9.6L484.8 11.6" stroke="#d03010" stroke-width="1.1" fill="none"/>
<path d="M506.5 2.5H513.5L517 6V15.5H506.5Z" fill="#fff" stroke="#8a8a8a" stroke-width="1"/>
<path d="M509 6.5H511.5M509 6.5V12.5H511" stroke="#808080" stroke-width="0.9" fill="none"/>
<path d="M514.4 8.1H518V11.9H521.9V15.5H518V19.3H514.4V15.5H510.5V11.9H514.4Z" fill="url(#grn)" stroke="#0a8a0a" stroke-width="0.7"/>
<path d="M528 9.2H533L530.5 12Z" fill="#000"/>
<path d="M567.2 9.2H572.2L569.7 12Z" fill="#000"/>
<path d="M606.2 9.2H611.2L608.7 12Z" fill="#000"/>
<path d="M912 9.2H917L914.5 12Z" fill="#000"/>
<circle cx="552" cy="10" r="7" fill="#fff" stroke="url(#blu2)" stroke-width="2.7"/>
<circle cx="552" cy="10" r="5.6" fill="#f4f8ff" stroke="#9cc0f0" stroke-width="0.6"/>
<path d="M552 6V10.3H555.3" stroke="#404040" stroke-width="1" fill="none"/>
<rect x="583.3" y="3.4" width="15.6" height="13.2" rx="0.8" fill="#fff" stroke="#3a78d8" stroke-width="1.2"/>
<rect x="583.3" y="3.4" width="15.6" height="2.2" fill="#5a9af0" />
<path d="M585 9.2L588 8L590.4 9L593.6 7.4L597 8" stroke="#a01c10" stroke-width="1.2" fill="none"/>
<path d="M584 11.3H598" stroke="#6a9ae0" stroke-width="0.8"/>
<path d="M585 14.4L588 13L590.4 14.2L593.6 12.4L597 14" stroke="#108a10" stroke-width="1.2" fill="none"/>
<path d="M634.8 3.4V15.6L637.6 13L639.8 17.6L641.8 16.7L639.7 12.3H643.6Z" fill="#505050"/>
<path d="M667.5 3V9M667.5 11.8V17.8M660 10.4H666M668.8 10.4H675" stroke="#404040" stroke-width="1" fill="none"/>
<path d="M701.7 4.2V16.8" stroke="#505050" stroke-width="1.1"/>
<path d="M724.2 10.5H736.4" stroke="#505050" stroke-width="1.1"/>
<path d="M751.8 16.8L764.2 5" stroke="#505050" stroke-width="1.1"/>
<path d="M778 11.8L791.2 3.8M779 16.5L792.1 8.5M781.3 8.3V16.2M784.1 6.6V14.6M786.9 4.8V12.8M789.8 2V10.6" stroke="#505050" stroke-width="1.1" fill="none"/>
<path d="M792.6 14.6H789.4V18.1H792.6M789.4 16.35H792.1" stroke="#303030" stroke-width="1.15" fill="none"/>
<path d="M807.2 3.6H820" stroke="#505050" stroke-width="1.2" stroke-dasharray="1.2,1.25"/>
<path d="M807.2 6.6H820" stroke="#505050" stroke-width="1.2" stroke-dasharray="1.2,1.25"/>
<path d="M807.2 10.4H820" stroke="#505050" stroke-width="1.2" stroke-dasharray="1.2,1.25"/>
<path d="M807.2 14.4H815.4" stroke="#505050" stroke-width="1.2" stroke-dasharray="1.2,1.25"/>
<path d="M820.8 14.6H817.7V18.6M817.7 16.45H820.3" stroke="#303030" stroke-width="1.15" fill="none"/>
<text x="837.8" y="14.9" font-size="12.4" fill="#484848" text-anchor="start" font-weight="normal" textLength="8" lengthAdjust="spacingAndGlyphs" >A</text>
<rect x="864.3" y="4.3" width="11.6" height="12.4" fill="none" stroke="#505050" stroke-width="1" stroke-dasharray="1.2,1.2"/>
<text x="865.8" y="15.1" font-size="11.4" fill="#505050" text-anchor="start" font-weight="bold" textLength="8.4" lengthAdjust="spacingAndGlyphs" >T</text>
<path d="M891.1 7.5L894.1 4.2L897.2 7.5L894.1 8.7Z M898.5 13L901.6 16.5L904.7 13L901.6 11.8Z" fill="#484848"/>
<path d="M893.2 10.2L895.8 12.8L899.8 8.4" stroke="#484848" stroke-width="1.7" fill="none"/>
<text x="938.7" y="14" font-size="9.5" fill="#404040" text-anchor="start" font-weight="normal" textLength="12.6" lengthAdjust="spacingAndGlyphs" >M1</text>
<text x="966.7" y="14" font-size="9.5" fill="#404040" text-anchor="start" font-weight="normal" textLength="12.4" lengthAdjust="spacingAndGlyphs" >M5</text>
<text x="992.8" y="14" font-size="9.5" fill="#404040" text-anchor="start" font-weight="normal" textLength="17.3" lengthAdjust="spacingAndGlyphs" >M15</text>
<text x="1020.8" y="14" font-size="9.5" fill="#404040" text-anchor="start" font-weight="normal" textLength="17.5" lengthAdjust="spacingAndGlyphs" >M30</text>
<text x="1051.7" y="14" font-size="9.5" fill="#404040" text-anchor="start" font-weight="normal" textLength="11.6" lengthAdjust="spacingAndGlyphs" >H1</text>
<text x="1078.7" y="14" font-size="9.5" fill="#404040" text-anchor="start" font-weight="normal" textLength="12.1" lengthAdjust="spacingAndGlyphs" >H4</text>
<text x="1107.8" y="14" font-size="9.5" fill="#404040" text-anchor="start" font-weight="normal" textLength="11.2" lengthAdjust="spacingAndGlyphs" >D1</text>
<text x="1135" y="14" font-size="9.5" fill="#404040" text-anchor="start" font-weight="normal" textLength="14" lengthAdjust="spacingAndGlyphs" >W1</text>
<text x="1161.7" y="14" font-size="9.5" fill="#404040" text-anchor="start" font-weight="normal" textLength="15" lengthAdjust="spacingAndGlyphs" >MN</text>
<line x1="1647" y1="14.6" x2="1651" y2="10.4" stroke="#2a62d0" stroke-width="2.2" stroke-linecap="round"/>
<circle cx="1654.2" cy="7.4" r="3.9" fill="#fff" stroke="#2a62d0" stroke-width="1.5"/>
<path d="M1672 12.5C1672 9.5 1675 8 1678 8C1681.5 8 1683.5 10 1683.5 12.5C1683.5 15 1681 16.6 1677.5 16.4L1674.5 18.6L1675 16C1673 15.4 1672 14 1672 12.5Z" fill="#f8f8fc" stroke="#b8b8c8" stroke-width="0.8"/>
<circle cx="1685" cy="7.4" r="8.4" fill="url(#redb)"/>
<text x="1685" y="12.4" font-size="13" fill="#fff" text-anchor="middle" font-weight="normal" >1</text>
</g>
</svg>
</body></html>
